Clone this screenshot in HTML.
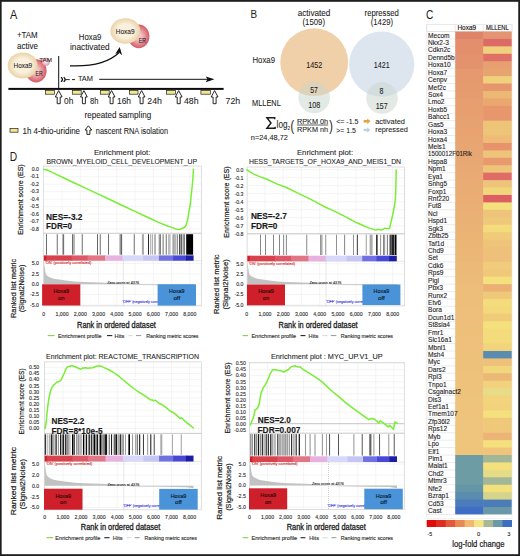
<!DOCTYPE html>
<html><head><meta charset="utf-8"><title>Figure</title>
<style>html,body{margin:0;padding:0;background:#fff;width:520px;height:556px;overflow:hidden;}svg{display:block;font-family:"Liberation Sans",sans-serif;}</style></head><body>
<svg width="520" height="556" viewBox="0 0 520 556" font-family='"Liberation Sans", sans-serif' fill="#1a1a1a">
<rect x="0" y="0" width="520" height="556" fill="#ffffff"/>
<text x="9.80" y="160.90" font-size="12.5" textLength="7.40" lengthAdjust="spacingAndGlyphs">D</text>
<text x="93.90" y="154.80" font-size="7.4" stroke="#1a1a1a" stroke-width="0.08" textLength="56.50" lengthAdjust="spacingAndGlyphs">Enrichment plot:</text>
<text x="46.50" y="163.80" font-size="7.4" stroke="#1a1a1a" stroke-width="0.08" textLength="150.50" lengthAdjust="spacingAndGlyphs">BROWN_MYELOID_CELL_DEVELOPMENT_UP</text>
<text transform="translate(23.30,234.80) rotate(-90)" x="0" y="0" font-size="8" stroke="#1a1a1a" stroke-width="0.2" textLength="70.50" lengthAdjust="spacingAndGlyphs">Enrichment score (ES)</text>
<text transform="translate(16.00,318.00) rotate(-90)" x="0" y="0" font-size="8" stroke="#1a1a1a" stroke-width="0.2" textLength="59.10" lengthAdjust="spacingAndGlyphs">Ranked list metric</text>
<text transform="translate(24.30,312.30) rotate(-90)" x="0" y="0" font-size="8" stroke="#1a1a1a" stroke-width="0.2" textLength="47.70" lengthAdjust="spacingAndGlyphs">(Signal2Noise)</text>
<line x1="62.05" y1="166.10" x2="62.05" y2="233.30" stroke="#ebebeb" stroke-width="0.5"/>
<line x1="62.05" y1="260.70" x2="62.05" y2="305.90" stroke="#ebebeb" stroke-width="0.5"/>
<line x1="80.30" y1="166.10" x2="80.30" y2="233.30" stroke="#ebebeb" stroke-width="0.5"/>
<line x1="80.30" y1="260.70" x2="80.30" y2="305.90" stroke="#ebebeb" stroke-width="0.5"/>
<line x1="98.55" y1="166.10" x2="98.55" y2="233.30" stroke="#ebebeb" stroke-width="0.5"/>
<line x1="98.55" y1="260.70" x2="98.55" y2="305.90" stroke="#ebebeb" stroke-width="0.5"/>
<line x1="116.80" y1="166.10" x2="116.80" y2="233.30" stroke="#ebebeb" stroke-width="0.5"/>
<line x1="116.80" y1="260.70" x2="116.80" y2="305.90" stroke="#ebebeb" stroke-width="0.5"/>
<line x1="135.05" y1="166.10" x2="135.05" y2="233.30" stroke="#ebebeb" stroke-width="0.5"/>
<line x1="135.05" y1="260.70" x2="135.05" y2="305.90" stroke="#ebebeb" stroke-width="0.5"/>
<line x1="153.30" y1="166.10" x2="153.30" y2="233.30" stroke="#ebebeb" stroke-width="0.5"/>
<line x1="153.30" y1="260.70" x2="153.30" y2="305.90" stroke="#ebebeb" stroke-width="0.5"/>
<line x1="171.55" y1="166.10" x2="171.55" y2="233.30" stroke="#ebebeb" stroke-width="0.5"/>
<line x1="171.55" y1="260.70" x2="171.55" y2="305.90" stroke="#ebebeb" stroke-width="0.5"/>
<line x1="189.80" y1="166.10" x2="189.80" y2="233.30" stroke="#ebebeb" stroke-width="0.5"/>
<line x1="189.80" y1="260.70" x2="189.80" y2="305.90" stroke="#ebebeb" stroke-width="0.5"/>
<line x1="43.30" y1="169.20" x2="201.30" y2="169.20" stroke="#ebebeb" stroke-width="0.5"/>
<line x1="43.30" y1="176.69" x2="201.30" y2="176.69" stroke="#ebebeb" stroke-width="0.5"/>
<line x1="43.30" y1="184.18" x2="201.30" y2="184.18" stroke="#ebebeb" stroke-width="0.5"/>
<line x1="43.30" y1="191.67" x2="201.30" y2="191.67" stroke="#ebebeb" stroke-width="0.5"/>
<line x1="43.30" y1="199.16" x2="201.30" y2="199.16" stroke="#ebebeb" stroke-width="0.5"/>
<line x1="43.30" y1="206.65" x2="201.30" y2="206.65" stroke="#ebebeb" stroke-width="0.5"/>
<line x1="43.30" y1="214.14" x2="201.30" y2="214.14" stroke="#ebebeb" stroke-width="0.5"/>
<line x1="43.30" y1="221.63" x2="201.30" y2="221.63" stroke="#ebebeb" stroke-width="0.5"/>
<line x1="43.30" y1="229.12" x2="201.30" y2="229.12" stroke="#ebebeb" stroke-width="0.5"/>
<line x1="43.30" y1="263.50" x2="201.30" y2="263.50" stroke="#ebebeb" stroke-width="0.5"/>
<line x1="43.30" y1="274.00" x2="201.30" y2="274.00" stroke="#ebebeb" stroke-width="0.5"/>
<line x1="43.30" y1="284.20" x2="201.30" y2="284.20" stroke="#ebebeb" stroke-width="0.5"/>
<line x1="43.30" y1="294.40" x2="201.30" y2="294.40" stroke="#ebebeb" stroke-width="0.5"/>
<line x1="43.30" y1="305.00" x2="201.30" y2="305.00" stroke="#ebebeb" stroke-width="0.5"/>
<rect x="43.30" y="166.10" width="158.00" height="139.80" fill="none" stroke="#cfcfcf" stroke-width="0.7"/>
<line x1="43.30" y1="233.30" x2="201.30" y2="233.30" stroke="#bdbdbd" stroke-width="0.8"/>
<line x1="43.30" y1="260.70" x2="201.30" y2="260.70" stroke="#d6d6d6" stroke-width="0.6"/>
<text x="39.00" y="171.00" font-size="5.2" text-anchor="end" fill="#303030" stroke="#303030" stroke-width="0.12">0.0</text>
<text x="39.00" y="178.49" font-size="5.2" text-anchor="end" fill="#303030" stroke="#303030" stroke-width="0.12">-0.1</text>
<text x="39.00" y="185.98" font-size="5.2" text-anchor="end" fill="#303030" stroke="#303030" stroke-width="0.12">-0.2</text>
<text x="39.00" y="193.47" font-size="5.2" text-anchor="end" fill="#303030" stroke="#303030" stroke-width="0.12">-0.3</text>
<text x="39.00" y="200.96" font-size="5.2" text-anchor="end" fill="#303030" stroke="#303030" stroke-width="0.12">-0.4</text>
<text x="39.00" y="208.45" font-size="5.2" text-anchor="end" fill="#303030" stroke="#303030" stroke-width="0.12">-0.5</text>
<text x="39.00" y="215.94" font-size="5.2" text-anchor="end" fill="#303030" stroke="#303030" stroke-width="0.12">-0.6</text>
<text x="39.00" y="223.43" font-size="5.2" text-anchor="end" fill="#303030" stroke="#303030" stroke-width="0.12">-0.7</text>
<text x="39.00" y="230.92" font-size="5.2" text-anchor="end" fill="#303030" stroke="#303030" stroke-width="0.12">-0.8</text>
<text x="39.00" y="265.30" font-size="5.2" text-anchor="end" fill="#303030" stroke="#303030" stroke-width="0.12">5.0</text>
<text x="39.00" y="275.80" font-size="5.2" text-anchor="end" fill="#303030" stroke="#303030" stroke-width="0.12">2.5</text>
<text x="39.00" y="286.00" font-size="5.2" text-anchor="end" fill="#303030" stroke="#303030" stroke-width="0.12">0.0</text>
<text x="39.00" y="296.20" font-size="5.2" text-anchor="end" fill="#303030" stroke="#303030" stroke-width="0.12">-2.5</text>
<text x="39.00" y="306.80" font-size="5.2" text-anchor="end" fill="#303030" stroke="#303030" stroke-width="0.12">-5.0</text>
<rect x="46.10" y="234.20" width="0.80" height="20.50" fill="#4a4a4a"/>
<rect x="56.80" y="234.20" width="0.80" height="20.50" fill="#4a4a4a"/>
<rect x="62.40" y="234.20" width="1.00" height="20.50" fill="#888"/>
<rect x="63.30" y="234.20" width="0.80" height="20.50" fill="#4a4a4a"/>
<rect x="72.00" y="234.20" width="0.80" height="20.50" fill="#4a4a4a"/>
<rect x="73.60" y="234.20" width="0.80" height="20.50" fill="#4a4a4a"/>
<rect x="81.80" y="234.20" width="0.80" height="20.50" fill="#4a4a4a"/>
<rect x="97.00" y="234.20" width="1.00" height="20.50" fill="#666"/>
<rect x="99.80" y="234.20" width="0.80" height="20.50" fill="#4a4a4a"/>
<rect x="108.20" y="234.20" width="0.80" height="20.50" fill="#4a4a4a"/>
<rect x="119.70" y="234.20" width="0.80" height="20.50" fill="#4a4a4a"/>
<rect x="121.30" y="234.20" width="0.80" height="20.50" fill="#4a4a4a"/>
<rect x="120.85" y="234.20" width="0.70" height="20.50" fill="#555"/>
<rect x="133.80" y="234.20" width="0.80" height="20.50" fill="#4a4a4a"/>
<rect x="141.90" y="234.20" width="0.80" height="20.50" fill="#888"/>
<rect x="143.00" y="234.20" width="0.80" height="20.50" fill="#999"/>
<rect x="148.05" y="234.20" width="0.90" height="20.50" fill="#111"/>
<rect x="150.40" y="234.20" width="0.80" height="20.50" fill="#888"/>
<rect x="152.20" y="234.20" width="0.80" height="20.50" fill="#999"/>
<rect x="154.60" y="234.20" width="0.80" height="20.50" fill="#4a4a4a"/>
<rect x="158.75" y="234.20" width="0.90" height="20.50" fill="#777"/>
<rect x="159.85" y="234.20" width="0.90" height="20.50" fill="#555"/>
<rect x="162.70" y="234.20" width="0.80" height="20.50" fill="#4a4a4a"/>
<rect x="165.80" y="234.20" width="0.80" height="20.50" fill="#4a4a4a"/>
<rect x="168.45" y="234.20" width="0.90" height="20.50" fill="#888"/>
<rect x="169.60" y="234.20" width="0.80" height="20.50" fill="#999"/>
<rect x="172.70" y="234.20" width="0.80" height="20.50" fill="#4a4a4a"/>
<rect x="174.60" y="234.20" width="0.80" height="20.50" fill="#4a4a4a"/>
<rect x="176.80" y="234.20" width="0.80" height="20.50" fill="#4a4a4a"/>
<rect x="179.20" y="234.20" width="1.00" height="20.50" fill="#222"/>
<rect x="180.70" y="234.20" width="1.00" height="20.50" fill="#222"/>
<rect x="182.70" y="234.20" width="0.80" height="20.50" fill="#4a4a4a"/>
<rect x="183.90" y="234.20" width="0.80" height="20.50" fill="#4a4a4a"/>
<rect x="186.20" y="234.20" width="6.90" height="20.50" fill="#000"/>
<rect x="43.80" y="255.40" width="3.20" height="5.30" fill="#d01e2a"/>
<rect x="46.30" y="255.40" width="26.10" height="5.30" fill="#d8424c"/>
<rect x="71.70" y="255.40" width="16.60" height="5.30" fill="#dc5866"/>
<rect x="87.60" y="255.40" width="18.10" height="5.30" fill="#e27684"/>
<rect x="105.00" y="255.40" width="18.20" height="5.30" fill="#e8b2e0"/>
<rect x="122.50" y="255.40" width="21.40" height="5.30" fill="#d8d8fa"/>
<rect x="143.20" y="255.40" width="16.50" height="5.30" fill="#c6c6f4"/>
<rect x="159.00" y="255.40" width="15.00" height="5.30" fill="#7070e2"/>
<rect x="173.30" y="255.40" width="13.40" height="5.30" fill="#4848d6"/>
<rect x="186.00" y="255.40" width="7.60" height="5.30" fill="#1c1ca4"/>
<path d="M43.80,284.20 L43.80,261.50 L44.29,264.90 L45.21,271.00 L46.00,274.40 L47.80,276.20 L50.39,277.50 L53.79,278.80 L58.93,279.60 L65.97,280.50 L74.51,281.40 L83.35,281.90 L91.89,282.20 L105.67,282.70 L118.70,283.30 L123.94,284.20 L133.68,284.90 L163.64,285.20 L186.11,285.60 L192.10,286.40 L193.60,286.40 L193.60,284.20 Z" fill="#c2c2c2"/>
<line x1="123.40" y1="260.70" x2="123.40" y2="305.90" stroke="#a0a0a0" stroke-width="0.5" stroke-dasharray="1,1"/>
<text x="107.20" y="284.30" font-size="3.4" fill="#222" stroke="#222" stroke-width="0.088" textLength="32.00" lengthAdjust="spacingAndGlyphs">Zero cross at 4376</text>
<text x="44.90" y="264.10" font-size="3.4" fill="#d42020" stroke="#d42020" stroke-width="0.088" textLength="46.40" lengthAdjust="spacingAndGlyphs">'ON' (positively correlated)</text>
<text x="122.40" y="303.40" font-size="3.4" fill="#2a2ae0" stroke="#2a2ae0" stroke-width="0.088" textLength="46.00" lengthAdjust="spacingAndGlyphs">'OFF' (negatively correlated)</text>
<rect x="42.10" y="284.30" width="38.20" height="21.20" fill="#cf1f2b"/>
<rect x="157.60" y="284.30" width="38.40" height="21.30" fill="#4a93d8"/>
<text x="61.20" y="293.10" font-size="5.6" text-anchor="middle" fill="#2a0808" stroke="#2a0808" stroke-width="0.146" textLength="15.60" lengthAdjust="spacingAndGlyphs">Hoxa9</text>
<text x="61.20" y="299.70" font-size="5.6" text-anchor="middle" fill="#2a0808" stroke="#2a0808" stroke-width="0.146" textLength="6.40" lengthAdjust="spacingAndGlyphs">on</text>
<text x="176.80" y="293.10" font-size="5.6" text-anchor="middle" fill="#0a1a30" stroke="#0a1a30" stroke-width="0.146" textLength="15.60" lengthAdjust="spacingAndGlyphs">Hoxa9</text>
<text x="176.80" y="299.70" font-size="5.6" text-anchor="middle" fill="#0a1a30" stroke="#0a1a30" stroke-width="0.146" textLength="6.80" lengthAdjust="spacingAndGlyphs">off</text>
<path d="M43.60,169.50 L46.50,169.80 L50.00,171.40 L56.30,174.40 L65.00,178.50 L75.00,183.20 L85.00,187.90 L95.00,192.60 L105.00,197.30 L115.00,202.00 L125.00,206.70 L135.00,211.40 L143.10,215.20 L150.80,218.80 L158.50,222.40 L166.20,225.50 L172.30,227.60 L176.90,229.20 L179.20,229.60 L181.50,228.80 L184.60,227.30 L186.20,225.00 L187.70,219.60 L189.20,210.40 L190.40,204.00 L191.10,196.00 L192.00,188.00 L192.80,180.20 L193.20,174.00 L193.40,169.30" fill="none" stroke="#78ee34" stroke-width="1.5" stroke-linejoin="round" stroke-linecap="round"/>
<text x="46.10" y="219.90" font-size="9.4" stroke="#1a1a1a" stroke-width="0.15" font-weight="bold" textLength="36.40" lengthAdjust="spacingAndGlyphs">NES=-3.2</text>
<text x="46.10" y="228.90" font-size="9.4" stroke="#1a1a1a" stroke-width="0.15" font-weight="bold" textLength="26.00" lengthAdjust="spacingAndGlyphs">FDR=0</text>
<text x="43.80" y="315.60" font-size="5.2" text-anchor="middle" fill="#303030" stroke="#303030" stroke-width="0.12">0</text>
<text x="62.05" y="315.60" font-size="5.2" text-anchor="middle" fill="#303030" stroke="#303030" stroke-width="0.12">1,000</text>
<text x="80.30" y="315.60" font-size="5.2" text-anchor="middle" fill="#303030" stroke="#303030" stroke-width="0.12">2,000</text>
<text x="98.55" y="315.60" font-size="5.2" text-anchor="middle" fill="#303030" stroke="#303030" stroke-width="0.12">3,000</text>
<text x="116.80" y="315.60" font-size="5.2" text-anchor="middle" fill="#303030" stroke="#303030" stroke-width="0.12">4,000</text>
<text x="135.05" y="315.60" font-size="5.2" text-anchor="middle" fill="#303030" stroke="#303030" stroke-width="0.12">5,000</text>
<text x="153.30" y="315.60" font-size="5.2" text-anchor="middle" fill="#303030" stroke="#303030" stroke-width="0.12">6,000</text>
<text x="171.55" y="315.60" font-size="5.2" text-anchor="middle" fill="#303030" stroke="#303030" stroke-width="0.12">7,000</text>
<text x="189.80" y="315.60" font-size="5.2" text-anchor="middle" fill="#303030" stroke="#303030" stroke-width="0.12">8,000</text>
<text x="77.10" y="327.60" font-size="8.4" stroke="#1a1a1a" stroke-width="0.3" textLength="78.70" lengthAdjust="spacingAndGlyphs">Rank in ordered dataset</text>
<line x1="47.70" y1="335.60" x2="54.60" y2="335.60" stroke="#80d050" stroke-width="1.1"/>
<text x="57.90" y="337.50" font-size="5.6" fill="#333" stroke="#333" stroke-width="0.146" textLength="43.60" lengthAdjust="spacingAndGlyphs">Enrichment profile</text>
<line x1="107.00" y1="335.60" x2="112.30" y2="335.60" stroke="#222" stroke-width="1.1"/>
<text x="114.60" y="337.50" font-size="5.6" fill="#333" stroke="#333" stroke-width="0.146" textLength="9.80" lengthAdjust="spacingAndGlyphs">Hits</text>
<line x1="128.30" y1="335.60" x2="132.70" y2="335.60" stroke="#dcdcdc" stroke-width="1.1"/>
<line x1="136.00" y1="335.60" x2="141.20" y2="335.60" stroke="#8a8a8a" stroke-width="0.9"/>
<text x="146.20" y="337.50" font-size="5.6" fill="#333" stroke="#333" stroke-width="0.146" textLength="52.30" lengthAdjust="spacingAndGlyphs">Ranking metric scores</text>
<text x="296.90" y="155.00" font-size="7.4" stroke="#1a1a1a" stroke-width="0.08" textLength="56.20" lengthAdjust="spacingAndGlyphs">Enrichment plot:</text>
<text x="249.00" y="163.80" font-size="7.4" stroke="#1a1a1a" stroke-width="0.08" textLength="152.10" lengthAdjust="spacingAndGlyphs">HESS_TARGETS_OF_HOXA9_AND_MEIS1_DN</text>
<text transform="translate(228.60,237.70) rotate(-90)" x="0" y="0" font-size="8" stroke="#1a1a1a" stroke-width="0.2" textLength="71.40" lengthAdjust="spacingAndGlyphs">Enrichment score (ES)</text>
<text transform="translate(219.40,314.00) rotate(-90)" x="0" y="0" font-size="8" stroke="#1a1a1a" stroke-width="0.2" textLength="59.60" lengthAdjust="spacingAndGlyphs">Ranked list metric</text>
<text transform="translate(228.40,309.60) rotate(-90)" x="0" y="0" font-size="8" stroke="#1a1a1a" stroke-width="0.2" textLength="50.30" lengthAdjust="spacingAndGlyphs">(Signal2Noise)</text>
<line x1="264.94" y1="167.00" x2="264.94" y2="233.80" stroke="#ebebeb" stroke-width="0.5"/>
<line x1="264.94" y1="261.30" x2="264.94" y2="305.90" stroke="#ebebeb" stroke-width="0.5"/>
<line x1="283.18" y1="167.00" x2="283.18" y2="233.80" stroke="#ebebeb" stroke-width="0.5"/>
<line x1="283.18" y1="261.30" x2="283.18" y2="305.90" stroke="#ebebeb" stroke-width="0.5"/>
<line x1="301.42" y1="167.00" x2="301.42" y2="233.80" stroke="#ebebeb" stroke-width="0.5"/>
<line x1="301.42" y1="261.30" x2="301.42" y2="305.90" stroke="#ebebeb" stroke-width="0.5"/>
<line x1="319.66" y1="167.00" x2="319.66" y2="233.80" stroke="#ebebeb" stroke-width="0.5"/>
<line x1="319.66" y1="261.30" x2="319.66" y2="305.90" stroke="#ebebeb" stroke-width="0.5"/>
<line x1="337.90" y1="167.00" x2="337.90" y2="233.80" stroke="#ebebeb" stroke-width="0.5"/>
<line x1="337.90" y1="261.30" x2="337.90" y2="305.90" stroke="#ebebeb" stroke-width="0.5"/>
<line x1="356.14" y1="167.00" x2="356.14" y2="233.80" stroke="#ebebeb" stroke-width="0.5"/>
<line x1="356.14" y1="261.30" x2="356.14" y2="305.90" stroke="#ebebeb" stroke-width="0.5"/>
<line x1="374.38" y1="167.00" x2="374.38" y2="233.80" stroke="#ebebeb" stroke-width="0.5"/>
<line x1="374.38" y1="261.30" x2="374.38" y2="305.90" stroke="#ebebeb" stroke-width="0.5"/>
<line x1="392.62" y1="167.00" x2="392.62" y2="233.80" stroke="#ebebeb" stroke-width="0.5"/>
<line x1="392.62" y1="261.30" x2="392.62" y2="305.90" stroke="#ebebeb" stroke-width="0.5"/>
<line x1="247.10" y1="169.70" x2="404.60" y2="169.70" stroke="#ebebeb" stroke-width="0.5"/>
<line x1="247.10" y1="177.70" x2="404.60" y2="177.70" stroke="#ebebeb" stroke-width="0.5"/>
<line x1="247.10" y1="185.70" x2="404.60" y2="185.70" stroke="#ebebeb" stroke-width="0.5"/>
<line x1="247.10" y1="193.70" x2="404.60" y2="193.70" stroke="#ebebeb" stroke-width="0.5"/>
<line x1="247.10" y1="201.70" x2="404.60" y2="201.70" stroke="#ebebeb" stroke-width="0.5"/>
<line x1="247.10" y1="209.70" x2="404.60" y2="209.70" stroke="#ebebeb" stroke-width="0.5"/>
<line x1="247.10" y1="217.70" x2="404.60" y2="217.70" stroke="#ebebeb" stroke-width="0.5"/>
<line x1="247.10" y1="225.70" x2="404.60" y2="225.70" stroke="#ebebeb" stroke-width="0.5"/>
<line x1="247.10" y1="233.70" x2="404.60" y2="233.70" stroke="#ebebeb" stroke-width="0.5"/>
<line x1="247.10" y1="263.70" x2="404.60" y2="263.70" stroke="#ebebeb" stroke-width="0.5"/>
<line x1="247.10" y1="274.00" x2="404.60" y2="274.00" stroke="#ebebeb" stroke-width="0.5"/>
<line x1="247.10" y1="284.20" x2="404.60" y2="284.20" stroke="#ebebeb" stroke-width="0.5"/>
<line x1="247.10" y1="294.40" x2="404.60" y2="294.40" stroke="#ebebeb" stroke-width="0.5"/>
<line x1="247.10" y1="305.00" x2="404.60" y2="305.00" stroke="#ebebeb" stroke-width="0.5"/>
<rect x="247.10" y="167.00" width="157.50" height="138.90" fill="none" stroke="#cfcfcf" stroke-width="0.7"/>
<line x1="247.10" y1="233.80" x2="404.60" y2="233.80" stroke="#bdbdbd" stroke-width="0.8"/>
<line x1="247.10" y1="261.30" x2="404.60" y2="261.30" stroke="#d6d6d6" stroke-width="0.6"/>
<text x="243.40" y="171.50" font-size="5.2" text-anchor="end" fill="#303030" stroke="#303030" stroke-width="0.12">0.0</text>
<text x="243.40" y="179.50" font-size="5.2" text-anchor="end" fill="#303030" stroke="#303030" stroke-width="0.12">-0.1</text>
<text x="243.40" y="187.50" font-size="5.2" text-anchor="end" fill="#303030" stroke="#303030" stroke-width="0.12">-0.2</text>
<text x="243.40" y="195.50" font-size="5.2" text-anchor="end" fill="#303030" stroke="#303030" stroke-width="0.12">-0.3</text>
<text x="243.40" y="203.50" font-size="5.2" text-anchor="end" fill="#303030" stroke="#303030" stroke-width="0.12">-0.4</text>
<text x="243.40" y="211.50" font-size="5.2" text-anchor="end" fill="#303030" stroke="#303030" stroke-width="0.12">-0.5</text>
<text x="243.40" y="219.50" font-size="5.2" text-anchor="end" fill="#303030" stroke="#303030" stroke-width="0.12">-0.6</text>
<text x="243.40" y="227.50" font-size="5.2" text-anchor="end" fill="#303030" stroke="#303030" stroke-width="0.12">-0.7</text>
<text x="243.40" y="235.50" font-size="5.2" text-anchor="end" fill="#303030" stroke="#303030" stroke-width="0.12">-0.8</text>
<text x="243.40" y="265.50" font-size="5.2" text-anchor="end" fill="#303030" stroke="#303030" stroke-width="0.12">5.0</text>
<text x="243.40" y="275.80" font-size="5.2" text-anchor="end" fill="#303030" stroke="#303030" stroke-width="0.12">2.5</text>
<text x="243.40" y="286.00" font-size="5.2" text-anchor="end" fill="#303030" stroke="#303030" stroke-width="0.12">0.0</text>
<text x="243.40" y="296.20" font-size="5.2" text-anchor="end" fill="#303030" stroke="#303030" stroke-width="0.12">-2.5</text>
<text x="243.40" y="306.80" font-size="5.2" text-anchor="end" fill="#303030" stroke="#303030" stroke-width="0.12">-5.0</text>
<rect x="260.20" y="234.70" width="0.80" height="20.30" fill="#6a6a6a"/>
<rect x="265.10" y="234.70" width="0.80" height="20.30" fill="#6a6a6a"/>
<rect x="273.20" y="234.70" width="0.80" height="20.30" fill="#6a6a6a"/>
<rect x="279.20" y="234.70" width="0.80" height="20.30" fill="#6a6a6a"/>
<rect x="283.30" y="234.70" width="0.80" height="20.30" fill="#6a6a6a"/>
<rect x="285.90" y="234.70" width="0.80" height="20.30" fill="#6a6a6a"/>
<rect x="306.40" y="234.70" width="0.80" height="20.30" fill="#6a6a6a"/>
<rect x="320.30" y="234.70" width="0.80" height="20.30" fill="#6a6a6a"/>
<rect x="321.50" y="234.70" width="0.80" height="20.30" fill="#6a6a6a"/>
<rect x="325.40" y="234.70" width="0.80" height="20.30" fill="#777"/>
<rect x="336.10" y="234.70" width="0.80" height="20.30" fill="#777"/>
<rect x="344.30" y="234.70" width="0.80" height="20.30" fill="#666"/>
<rect x="353.10" y="234.70" width="0.80" height="20.30" fill="#777"/>
<rect x="356.85" y="234.70" width="0.90" height="20.30" fill="#222"/>
<rect x="365.80" y="234.70" width="0.80" height="20.30" fill="#888"/>
<rect x="369.60" y="234.70" width="3.00" height="20.30" fill="#aaa"/>
<rect x="376.05" y="234.70" width="0.90" height="20.30" fill="#222"/>
<rect x="376.90" y="234.70" width="0.80" height="20.30" fill="#444"/>
<rect x="380.30" y="234.70" width="0.80" height="20.30" fill="#777"/>
<rect x="383.10" y="234.70" width="0.80" height="20.30" fill="#666"/>
<rect x="384.30" y="234.70" width="0.80" height="20.30" fill="#777"/>
<rect x="386.90" y="234.70" width="0.80" height="20.30" fill="#555"/>
<rect x="389.50" y="234.70" width="2.20" height="20.30" fill="#444"/>
<rect x="391.70" y="234.70" width="2.60" height="20.30" fill="#222"/>
<rect x="394.70" y="234.70" width="1.80" height="20.30" fill="#000"/>
<rect x="247.30" y="255.70" width="3.19" height="5.60" fill="#d01e2a"/>
<rect x="249.79" y="255.70" width="26.05" height="5.60" fill="#d8424c"/>
<rect x="275.14" y="255.70" width="16.57" height="5.60" fill="#dc5866"/>
<rect x="291.01" y="255.70" width="18.07" height="5.60" fill="#e27684"/>
<rect x="308.38" y="255.70" width="18.16" height="5.60" fill="#e8b2e0"/>
<rect x="325.84" y="255.70" width="21.36" height="5.60" fill="#d8d8fa"/>
<rect x="346.50" y="255.70" width="16.47" height="5.60" fill="#c6c6f4"/>
<rect x="362.27" y="255.70" width="14.97" height="5.60" fill="#7070e2"/>
<rect x="376.54" y="255.70" width="13.37" height="5.60" fill="#4848d6"/>
<rect x="389.22" y="255.70" width="7.58" height="5.60" fill="#1c1ca4"/>
<path d="M247.30,284.20 L247.30,261.50 L247.79,264.90 L248.71,271.00 L249.50,274.40 L251.29,276.20 L253.88,277.50 L257.27,278.80 L262.40,279.60 L269.43,280.50 L277.95,281.40 L286.77,281.90 L295.29,282.20 L309.04,282.70 L322.05,283.30 L327.28,284.20 L337.00,284.90 L366.90,285.20 L389.33,285.60 L395.31,286.40 L396.80,286.40 L396.80,284.20 Z" fill="#c2c2c2"/>
<line x1="326.00" y1="261.30" x2="326.00" y2="305.90" stroke="#a0a0a0" stroke-width="0.5" stroke-dasharray="1,1"/>
<text x="309.50" y="284.30" font-size="3.4" fill="#222" stroke="#222" stroke-width="0.088" textLength="32.00" lengthAdjust="spacingAndGlyphs">Zero cross at 4376</text>
<text x="248.70" y="264.70" font-size="3.4" fill="#d42020" stroke="#d42020" stroke-width="0.088" textLength="46.40" lengthAdjust="spacingAndGlyphs">'ON' (positively correlated)</text>
<text x="326.00" y="303.20" font-size="3.4" fill="#2a2ae0" stroke="#2a2ae0" stroke-width="0.088" textLength="46.00" lengthAdjust="spacingAndGlyphs">'OFF' (negatively correlated)</text>
<rect x="247.00" y="284.50" width="38.00" height="20.80" fill="#cf1f2b"/>
<rect x="362.40" y="284.50" width="38.00" height="20.50" fill="#4a93d8"/>
<text x="266.00" y="293.30" font-size="5.6" text-anchor="middle" fill="#2a0808" stroke="#2a0808" stroke-width="0.146" textLength="15.60" lengthAdjust="spacingAndGlyphs">Hoxa9</text>
<text x="266.00" y="299.90" font-size="5.6" text-anchor="middle" fill="#2a0808" stroke="#2a0808" stroke-width="0.146" textLength="6.40" lengthAdjust="spacingAndGlyphs">on</text>
<text x="381.40" y="293.30" font-size="5.6" text-anchor="middle" fill="#0a1a30" stroke="#0a1a30" stroke-width="0.146" textLength="15.60" lengthAdjust="spacingAndGlyphs">Hoxa9</text>
<text x="381.40" y="299.90" font-size="5.6" text-anchor="middle" fill="#0a1a30" stroke="#0a1a30" stroke-width="0.146" textLength="6.80" lengthAdjust="spacingAndGlyphs">off</text>
<path d="M246.90,169.90 L253.80,174.10 L260.30,176.90 L266.90,179.30 L276.70,183.90 L286.50,187.50 L296.30,192.40 L309.40,198.60 L319.20,203.90 L325.00,207.00 L332.70,210.40 L340.40,214.20 L348.10,218.10 L355.80,222.40 L358.10,223.20 L363.50,225.80 L369.60,228.10 L375.80,230.10 L378.10,229.20 L381.20,230.10 L383.20,229.20 L385.00,228.10 L387.30,228.80 L389.60,228.50 L391.20,221.20 L392.70,215.00 L394.20,207.30 L395.50,198.10 L395.90,185.00 L396.10,176.00 L396.20,169.90" fill="none" stroke="#78ee34" stroke-width="1.5" stroke-linejoin="round" stroke-linecap="round"/>
<text x="250.90" y="219.40" font-size="9.4" stroke="#1a1a1a" stroke-width="0.15" font-weight="bold" textLength="35.90" lengthAdjust="spacingAndGlyphs">NES=-2.7</text>
<text x="250.90" y="228.50" font-size="9.4" stroke="#1a1a1a" stroke-width="0.15" font-weight="bold" textLength="26.60" lengthAdjust="spacingAndGlyphs">FDR=0</text>
<text x="246.70" y="315.60" font-size="5.2" text-anchor="middle" fill="#303030" stroke="#303030" stroke-width="0.12">0</text>
<text x="264.94" y="315.60" font-size="5.2" text-anchor="middle" fill="#303030" stroke="#303030" stroke-width="0.12">1,000</text>
<text x="283.18" y="315.60" font-size="5.2" text-anchor="middle" fill="#303030" stroke="#303030" stroke-width="0.12">2,000</text>
<text x="301.42" y="315.60" font-size="5.2" text-anchor="middle" fill="#303030" stroke="#303030" stroke-width="0.12">3,000</text>
<text x="319.66" y="315.60" font-size="5.2" text-anchor="middle" fill="#303030" stroke="#303030" stroke-width="0.12">4,000</text>
<text x="337.90" y="315.60" font-size="5.2" text-anchor="middle" fill="#303030" stroke="#303030" stroke-width="0.12">5,000</text>
<text x="356.14" y="315.60" font-size="5.2" text-anchor="middle" fill="#303030" stroke="#303030" stroke-width="0.12">6,000</text>
<text x="374.38" y="315.60" font-size="5.2" text-anchor="middle" fill="#303030" stroke="#303030" stroke-width="0.12">7,000</text>
<text x="392.62" y="315.60" font-size="5.2" text-anchor="middle" fill="#303030" stroke="#303030" stroke-width="0.12">8,000</text>
<text x="278.60" y="327.60" font-size="8.4" stroke="#1a1a1a" stroke-width="0.3" textLength="79.00" lengthAdjust="spacingAndGlyphs">Rank in ordered dataset</text>
<line x1="242.60" y1="335.60" x2="248.20" y2="335.60" stroke="#80d050" stroke-width="1.1"/>
<text x="251.40" y="337.50" font-size="5.6" fill="#333" stroke="#333" stroke-width="0.146" textLength="44.80" lengthAdjust="spacingAndGlyphs">Enrichment profile</text>
<line x1="300.50" y1="335.60" x2="305.40" y2="335.60" stroke="#222" stroke-width="1.1"/>
<text x="308.60" y="337.50" font-size="5.6" fill="#333" stroke="#333" stroke-width="0.146" textLength="9.80" lengthAdjust="spacingAndGlyphs">Hits</text>
<line x1="322.40" y1="335.60" x2="327.60" y2="335.60" stroke="#dcdcdc" stroke-width="1.1"/>
<line x1="330.80" y1="335.60" x2="336.40" y2="335.60" stroke="#8a8a8a" stroke-width="0.9"/>
<text x="340.70" y="337.50" font-size="5.6" fill="#333" stroke="#333" stroke-width="0.146" textLength="52.30" lengthAdjust="spacingAndGlyphs">Ranking metric scores</text>
<text x="46.10" y="358.60" font-size="7.4" stroke="#1a1a1a" stroke-width="0.08" textLength="152.90" lengthAdjust="spacingAndGlyphs">Enrichment plot: REACTOME_TRANSCRIPTION</text>
<text transform="translate(24.10,434.50) rotate(-90)" x="0" y="0" font-size="8" stroke="#1a1a1a" stroke-width="0.2" textLength="66.10" lengthAdjust="spacingAndGlyphs">Enrichment score (ES)</text>
<text transform="translate(16.10,515.20) rotate(-90)" x="0" y="0" font-size="8" stroke="#1a1a1a" stroke-width="0.2" textLength="68.20" lengthAdjust="spacingAndGlyphs">Ranked list metric</text>
<text transform="translate(25.00,509.30) rotate(-90)" x="0" y="0" font-size="8" stroke="#1a1a1a" stroke-width="0.2" textLength="50.40" lengthAdjust="spacingAndGlyphs">(Signal2Noise)</text>
<line x1="62.90" y1="361.90" x2="62.90" y2="433.40" stroke="#ebebeb" stroke-width="0.5"/>
<line x1="62.90" y1="461.50" x2="62.90" y2="509.80" stroke="#ebebeb" stroke-width="0.5"/>
<line x1="81.00" y1="361.90" x2="81.00" y2="433.40" stroke="#ebebeb" stroke-width="0.5"/>
<line x1="81.00" y1="461.50" x2="81.00" y2="509.80" stroke="#ebebeb" stroke-width="0.5"/>
<line x1="99.10" y1="361.90" x2="99.10" y2="433.40" stroke="#ebebeb" stroke-width="0.5"/>
<line x1="99.10" y1="461.50" x2="99.10" y2="509.80" stroke="#ebebeb" stroke-width="0.5"/>
<line x1="117.20" y1="361.90" x2="117.20" y2="433.40" stroke="#ebebeb" stroke-width="0.5"/>
<line x1="117.20" y1="461.50" x2="117.20" y2="509.80" stroke="#ebebeb" stroke-width="0.5"/>
<line x1="135.30" y1="361.90" x2="135.30" y2="433.40" stroke="#ebebeb" stroke-width="0.5"/>
<line x1="135.30" y1="461.50" x2="135.30" y2="509.80" stroke="#ebebeb" stroke-width="0.5"/>
<line x1="153.40" y1="361.90" x2="153.40" y2="433.40" stroke="#ebebeb" stroke-width="0.5"/>
<line x1="153.40" y1="461.50" x2="153.40" y2="509.80" stroke="#ebebeb" stroke-width="0.5"/>
<line x1="171.50" y1="361.90" x2="171.50" y2="433.40" stroke="#ebebeb" stroke-width="0.5"/>
<line x1="171.50" y1="461.50" x2="171.50" y2="509.80" stroke="#ebebeb" stroke-width="0.5"/>
<line x1="189.60" y1="361.90" x2="189.60" y2="433.40" stroke="#ebebeb" stroke-width="0.5"/>
<line x1="189.60" y1="461.50" x2="189.60" y2="509.80" stroke="#ebebeb" stroke-width="0.5"/>
<line x1="44.40" y1="428.50" x2="201.30" y2="428.50" stroke="#ebebeb" stroke-width="0.5"/>
<line x1="44.40" y1="422.39" x2="201.30" y2="422.39" stroke="#ebebeb" stroke-width="0.5"/>
<line x1="44.40" y1="416.28" x2="201.30" y2="416.28" stroke="#ebebeb" stroke-width="0.5"/>
<line x1="44.40" y1="410.17" x2="201.30" y2="410.17" stroke="#ebebeb" stroke-width="0.5"/>
<line x1="44.40" y1="404.06" x2="201.30" y2="404.06" stroke="#ebebeb" stroke-width="0.5"/>
<line x1="44.40" y1="397.95" x2="201.30" y2="397.95" stroke="#ebebeb" stroke-width="0.5"/>
<line x1="44.40" y1="391.84" x2="201.30" y2="391.84" stroke="#ebebeb" stroke-width="0.5"/>
<line x1="44.40" y1="385.73" x2="201.30" y2="385.73" stroke="#ebebeb" stroke-width="0.5"/>
<line x1="44.40" y1="379.62" x2="201.30" y2="379.62" stroke="#ebebeb" stroke-width="0.5"/>
<line x1="44.40" y1="373.51" x2="201.30" y2="373.51" stroke="#ebebeb" stroke-width="0.5"/>
<line x1="44.40" y1="367.40" x2="201.30" y2="367.40" stroke="#ebebeb" stroke-width="0.5"/>
<line x1="44.40" y1="464.00" x2="201.30" y2="464.00" stroke="#ebebeb" stroke-width="0.5"/>
<line x1="44.40" y1="475.00" x2="201.30" y2="475.00" stroke="#ebebeb" stroke-width="0.5"/>
<line x1="44.40" y1="485.70" x2="201.30" y2="485.70" stroke="#ebebeb" stroke-width="0.5"/>
<line x1="44.40" y1="496.80" x2="201.30" y2="496.80" stroke="#ebebeb" stroke-width="0.5"/>
<line x1="44.40" y1="507.50" x2="201.30" y2="507.50" stroke="#ebebeb" stroke-width="0.5"/>
<rect x="44.40" y="361.90" width="156.90" height="147.90" fill="none" stroke="#cfcfcf" stroke-width="0.7"/>
<line x1="44.40" y1="433.40" x2="201.30" y2="433.40" stroke="#bdbdbd" stroke-width="0.8"/>
<line x1="44.40" y1="461.50" x2="201.30" y2="461.50" stroke="#d6d6d6" stroke-width="0.6"/>
<text x="39.20" y="430.30" font-size="5.2" text-anchor="end" fill="#303030" stroke="#303030" stroke-width="0.12">0.00</text>
<text x="39.20" y="424.19" font-size="5.2" text-anchor="end" fill="#303030" stroke="#303030" stroke-width="0.12">0.05</text>
<text x="39.20" y="418.08" font-size="5.2" text-anchor="end" fill="#303030" stroke="#303030" stroke-width="0.12">0.10</text>
<text x="39.20" y="411.97" font-size="5.2" text-anchor="end" fill="#303030" stroke="#303030" stroke-width="0.12">0.15</text>
<text x="39.20" y="405.86" font-size="5.2" text-anchor="end" fill="#303030" stroke="#303030" stroke-width="0.12">0.20</text>
<text x="39.20" y="399.75" font-size="5.2" text-anchor="end" fill="#303030" stroke="#303030" stroke-width="0.12">0.25</text>
<text x="39.20" y="393.64" font-size="5.2" text-anchor="end" fill="#303030" stroke="#303030" stroke-width="0.12">0.30</text>
<text x="39.20" y="387.53" font-size="5.2" text-anchor="end" fill="#303030" stroke="#303030" stroke-width="0.12">0.35</text>
<text x="39.20" y="381.42" font-size="5.2" text-anchor="end" fill="#303030" stroke="#303030" stroke-width="0.12">0.40</text>
<text x="39.20" y="375.31" font-size="5.2" text-anchor="end" fill="#303030" stroke="#303030" stroke-width="0.12">0.45</text>
<text x="39.20" y="369.20" font-size="5.2" text-anchor="end" fill="#303030" stroke="#303030" stroke-width="0.12">0.50</text>
<text x="39.20" y="465.80" font-size="5.2" text-anchor="end" fill="#303030" stroke="#303030" stroke-width="0.12">5.0</text>
<text x="39.20" y="476.80" font-size="5.2" text-anchor="end" fill="#303030" stroke="#303030" stroke-width="0.12">2.0</text>
<text x="39.20" y="487.50" font-size="5.2" text-anchor="end" fill="#303030" stroke="#303030" stroke-width="0.12">0.0</text>
<text x="39.20" y="498.60" font-size="5.2" text-anchor="end" fill="#303030" stroke="#303030" stroke-width="0.12">-2.5</text>
<text x="39.20" y="509.30" font-size="5.2" text-anchor="end" fill="#303030" stroke="#303030" stroke-width="0.12">-5.0</text>
<rect x="44.70" y="434.30" width="1.20" height="20.60" fill="#222"/>
<rect x="46.72" y="434.30" width="1.00" height="20.60" fill="#aaa"/>
<rect x="48.77" y="434.30" width="1.40" height="20.60" fill="#aaa"/>
<rect x="50.79" y="434.30" width="1.70" height="20.60" fill="#222"/>
<rect x="52.94" y="434.30" width="1.70" height="20.60" fill="#aaa"/>
<rect x="55.49" y="434.30" width="1.20" height="20.60" fill="#111"/>
<rect x="57.88" y="434.30" width="1.00" height="20.60" fill="#888"/>
<rect x="60.12" y="434.30" width="1.20" height="20.60" fill="#000"/>
<rect x="62.48" y="434.30" width="1.40" height="20.60" fill="#000"/>
<rect x="64.82" y="434.30" width="1.70" height="20.60" fill="#333"/>
<rect x="67.05" y="434.30" width="1.70" height="20.60" fill="#888"/>
<rect x="69.26" y="434.30" width="1.20" height="20.60" fill="#aaa"/>
<rect x="71.99" y="434.30" width="1.00" height="20.60" fill="#000"/>
<rect x="73.38" y="434.30" width="1.40" height="20.60" fill="#222"/>
<rect x="76.13" y="434.30" width="1.40" height="20.60" fill="#888"/>
<rect x="78.12" y="434.30" width="1.40" height="20.60" fill="#888"/>
<rect x="80.37" y="434.30" width="1.20" height="20.60" fill="#888"/>
<rect x="82.93" y="434.30" width="1.40" height="20.60" fill="#000"/>
<rect x="85.72" y="434.30" width="1.40" height="20.60" fill="#111"/>
<rect x="88.57" y="434.30" width="1.20" height="20.60" fill="#000"/>
<rect x="90.76" y="434.30" width="1.40" height="20.60" fill="#333"/>
<rect x="92.18" y="434.30" width="1.70" height="20.60" fill="#aaa"/>
<rect x="93.70" y="434.30" width="1.70" height="20.60" fill="#000"/>
<rect x="96.51" y="434.30" width="1.40" height="20.60" fill="#000"/>
<rect x="98.71" y="434.30" width="1.00" height="20.60" fill="#888"/>
<rect x="99.82" y="434.30" width="1.70" height="20.60" fill="#000"/>
<rect x="102.38" y="434.30" width="1.40" height="20.60" fill="#666"/>
<rect x="104.48" y="434.30" width="1.40" height="20.60" fill="#000"/>
<rect x="106.09" y="434.30" width="1.00" height="20.60" fill="#000"/>
<rect x="108.62" y="434.30" width="1.40" height="20.60" fill="#888"/>
<rect x="111.08" y="434.30" width="1.00" height="20.60" fill="#111"/>
<rect x="113.65" y="434.30" width="1.40" height="20.60" fill="#666"/>
<rect x="115.40" y="434.30" width="1.70" height="20.60" fill="#111"/>
<rect x="117.68" y="434.30" width="1.00" height="20.60" fill="#888"/>
<rect x="119.60" y="434.30" width="1.70" height="20.60" fill="#333"/>
<rect x="121.90" y="434.30" width="0.80" height="20.60" fill="#888"/>
<rect x="123.00" y="434.30" width="0.80" height="20.60" fill="#888"/>
<rect x="125.00" y="434.30" width="0.80" height="20.60" fill="#888"/>
<rect x="128.40" y="434.30" width="1.60" height="20.60" fill="#000"/>
<rect x="132.15" y="434.30" width="0.90" height="20.60" fill="#888"/>
<rect x="134.95" y="434.30" width="0.90" height="20.60" fill="#999"/>
<rect x="136.75" y="434.30" width="0.90" height="20.60" fill="#333"/>
<rect x="139.20" y="434.30" width="1.00" height="20.60" fill="#000"/>
<rect x="142.95" y="434.30" width="0.90" height="20.60" fill="#222"/>
<rect x="147.25" y="434.30" width="0.90" height="20.60" fill="#888"/>
<rect x="150.30" y="434.30" width="1.00" height="20.60" fill="#111"/>
<rect x="153.75" y="434.30" width="0.90" height="20.60" fill="#333"/>
<rect x="160.30" y="434.30" width="2.00" height="20.60" fill="#aaa"/>
<rect x="171.90" y="434.30" width="0.80" height="20.60" fill="#888"/>
<rect x="180.80" y="434.30" width="0.80" height="20.60" fill="#888"/>
<rect x="44.60" y="455.60" width="3.18" height="5.90" fill="#d01e2a"/>
<rect x="47.08" y="455.60" width="25.95" height="5.90" fill="#d8424c"/>
<rect x="72.33" y="455.60" width="16.50" height="5.90" fill="#dc5866"/>
<rect x="88.14" y="455.60" width="18.00" height="5.90" fill="#e27684"/>
<rect x="105.43" y="455.60" width="18.09" height="5.90" fill="#e8b2e0"/>
<rect x="122.83" y="455.60" width="21.28" height="5.90" fill="#d8d8fa"/>
<rect x="143.40" y="455.60" width="16.41" height="5.90" fill="#c6c6f4"/>
<rect x="159.11" y="455.60" width="14.91" height="5.90" fill="#7070e2"/>
<rect x="173.32" y="455.60" width="13.32" height="5.90" fill="#4848d6"/>
<rect x="185.95" y="455.60" width="7.55" height="5.90" fill="#1c1ca4"/>
<path d="M44.60,485.70 L44.60,461.87 L45.09,465.44 L46.00,471.84 L46.79,475.41 L48.58,477.30 L51.15,478.66 L54.53,480.03 L59.64,480.87 L66.64,481.81 L75.12,482.76 L83.91,483.28 L92.40,483.60 L106.10,484.12 L119.05,484.75 L124.26,485.70 L133.94,486.44 L163.72,486.75 L186.06,487.17 L192.01,488.01 L193.50,488.01 L193.50,485.70 Z" fill="#c2c2c2"/>
<line x1="123.80" y1="461.50" x2="123.80" y2="509.80" stroke="#a0a0a0" stroke-width="0.5" stroke-dasharray="1,1"/>
<text x="107.50" y="485.80" font-size="3.4" fill="#222" stroke="#222" stroke-width="0.088" textLength="32.00" lengthAdjust="spacingAndGlyphs">Zero cross at 4376</text>
<text x="46.00" y="464.90" font-size="3.4" fill="#d42020" stroke="#d42020" stroke-width="0.088" textLength="46.40" lengthAdjust="spacingAndGlyphs">'ON' (positively correlated)</text>
<text x="123.00" y="507.20" font-size="3.4" fill="#2a2ae0" stroke="#2a2ae0" stroke-width="0.088" textLength="46.00" lengthAdjust="spacingAndGlyphs">'OFF' (negatively correlated)</text>
<rect x="44.00" y="488.70" width="38.50" height="21.00" fill="#cf1f2b"/>
<rect x="159.20" y="488.90" width="38.50" height="20.70" fill="#4a93d8"/>
<text x="63.25" y="497.50" font-size="5.6" text-anchor="middle" fill="#2a0808" stroke="#2a0808" stroke-width="0.146" textLength="15.60" lengthAdjust="spacingAndGlyphs">Hoxa9</text>
<text x="63.25" y="504.10" font-size="5.6" text-anchor="middle" fill="#2a0808" stroke="#2a0808" stroke-width="0.146" textLength="6.40" lengthAdjust="spacingAndGlyphs">on</text>
<text x="178.45" y="497.70" font-size="5.6" text-anchor="middle" fill="#0a1a30" stroke="#0a1a30" stroke-width="0.146" textLength="15.60" lengthAdjust="spacingAndGlyphs">Hoxa9</text>
<text x="178.45" y="504.30" font-size="5.6" text-anchor="middle" fill="#0a1a30" stroke="#0a1a30" stroke-width="0.146" textLength="6.80" lengthAdjust="spacingAndGlyphs">off</text>
<path d="M45.10,428.50 L46.30,421.50 L46.90,413.80 L47.80,406.20 L48.90,398.50 L50.50,390.80 L52.00,387.40 L54.30,384.30 L55.50,383.60 L56.60,382.30 L58.90,381.50 L60.20,380.90 L61.20,379.70 L62.80,376.20 L64.30,373.10 L65.80,369.20 L67.40,366.90 L69.70,366.20 L72.00,365.70 L74.30,366.50 L77.40,367.70 L80.50,369.20 L82.80,368.00 L85.80,367.70 L87.50,368.30 L89.70,368.00 L92.80,367.70 L95.80,366.50 L98.90,365.80 L101.20,366.20 L103.50,367.40 L108.20,369.50 L112.80,372.00 L117.40,375.10 L120.00,377.20 L124.60,381.20 L129.20,384.90 L133.80,388.50 L138.50,392.00 L143.10,394.60 L146.90,397.20 L150.00,399.70 L152.30,400.00 L153.80,400.80 L155.40,400.30 L157.70,402.30 L160.00,403.80 L162.30,404.60 L166.20,407.70 L170.80,411.50 L173.10,412.30 L176.90,415.40 L180.00,418.50 L181.50,417.70 L184.60,420.80 L189.20,424.60 L193.50,428.00" fill="none" stroke="#78ee34" stroke-width="1.5" stroke-linejoin="round" stroke-linecap="round"/>
<text x="51.50" y="423.80" font-size="9.4" stroke="#1a1a1a" stroke-width="0.15" font-weight="bold" textLength="32.80" lengthAdjust="spacingAndGlyphs">NES=2.2</text>
<text x="51.50" y="433.80" font-size="9.4" stroke="#1a1a1a" stroke-width="0.15" font-weight="bold" textLength="51.10" lengthAdjust="spacingAndGlyphs">FDR=8*10e-5</text>
<text x="44.80" y="518.60" font-size="5.2" text-anchor="middle" fill="#303030" stroke="#303030" stroke-width="0.12">0</text>
<text x="62.90" y="518.60" font-size="5.2" text-anchor="middle" fill="#303030" stroke="#303030" stroke-width="0.12">1,000</text>
<text x="81.00" y="518.60" font-size="5.2" text-anchor="middle" fill="#303030" stroke="#303030" stroke-width="0.12">2,000</text>
<text x="99.10" y="518.60" font-size="5.2" text-anchor="middle" fill="#303030" stroke="#303030" stroke-width="0.12">3,000</text>
<text x="117.20" y="518.60" font-size="5.2" text-anchor="middle" fill="#303030" stroke="#303030" stroke-width="0.12">4,000</text>
<text x="135.30" y="518.60" font-size="5.2" text-anchor="middle" fill="#303030" stroke="#303030" stroke-width="0.12">5,000</text>
<text x="153.40" y="518.60" font-size="5.2" text-anchor="middle" fill="#303030" stroke="#303030" stroke-width="0.12">6,000</text>
<text x="171.50" y="518.60" font-size="5.2" text-anchor="middle" fill="#303030" stroke="#303030" stroke-width="0.12">7,000</text>
<text x="189.60" y="518.60" font-size="5.2" text-anchor="middle" fill="#303030" stroke="#303030" stroke-width="0.12">8,000</text>
<text x="80.80" y="530.00" font-size="8.4" stroke="#1a1a1a" stroke-width="0.3" textLength="79.40" lengthAdjust="spacingAndGlyphs">Rank in ordered dataset</text>
<line x1="46.40" y1="537.70" x2="53.00" y2="537.70" stroke="#80d050" stroke-width="1.1"/>
<text x="55.30" y="539.60" font-size="5.6" fill="#333" stroke="#333" stroke-width="0.146" textLength="45.10" lengthAdjust="spacingAndGlyphs">Enrichment profile</text>
<line x1="104.30" y1="537.70" x2="109.50" y2="537.70" stroke="#222" stroke-width="1.1"/>
<text x="112.80" y="539.60" font-size="5.6" fill="#333" stroke="#333" stroke-width="0.146" textLength="9.80" lengthAdjust="spacingAndGlyphs">Hits</text>
<line x1="126.50" y1="537.70" x2="131.40" y2="537.70" stroke="#dcdcdc" stroke-width="1.1"/>
<line x1="134.70" y1="537.70" x2="139.60" y2="537.70" stroke="#8a8a8a" stroke-width="0.9"/>
<text x="144.50" y="539.60" font-size="5.6" fill="#333" stroke="#333" stroke-width="0.146" textLength="52.30" lengthAdjust="spacingAndGlyphs">Ranking metric scores</text>
<text x="270.90" y="358.60" font-size="7.4" stroke="#1a1a1a" stroke-width="0.08" textLength="111.70" lengthAdjust="spacingAndGlyphs">Enrichment plot : MYC_UP.V1_UP</text>
<text transform="translate(229.50,433.60) rotate(-90)" x="0" y="0" font-size="8" stroke="#1a1a1a" stroke-width="0.2" textLength="71.20" lengthAdjust="spacingAndGlyphs">Enrichment score (ES)</text>
<text transform="translate(222.10,519.70) rotate(-90)" x="0" y="0" font-size="8" stroke="#1a1a1a" stroke-width="0.2" textLength="63.80" lengthAdjust="spacingAndGlyphs">Ranked list metric</text>
<text transform="translate(231.00,510.80) rotate(-90)" x="0" y="0" font-size="8" stroke="#1a1a1a" stroke-width="0.2" textLength="47.50" lengthAdjust="spacingAndGlyphs">(Signal2Noise)</text>
<line x1="267.54" y1="362.30" x2="267.54" y2="433.20" stroke="#ebebeb" stroke-width="0.5"/>
<line x1="267.54" y1="462.00" x2="267.54" y2="509.40" stroke="#ebebeb" stroke-width="0.5"/>
<line x1="285.58" y1="362.30" x2="285.58" y2="433.20" stroke="#ebebeb" stroke-width="0.5"/>
<line x1="285.58" y1="462.00" x2="285.58" y2="509.40" stroke="#ebebeb" stroke-width="0.5"/>
<line x1="303.62" y1="362.30" x2="303.62" y2="433.20" stroke="#ebebeb" stroke-width="0.5"/>
<line x1="303.62" y1="462.00" x2="303.62" y2="509.40" stroke="#ebebeb" stroke-width="0.5"/>
<line x1="321.66" y1="362.30" x2="321.66" y2="433.20" stroke="#ebebeb" stroke-width="0.5"/>
<line x1="321.66" y1="462.00" x2="321.66" y2="509.40" stroke="#ebebeb" stroke-width="0.5"/>
<line x1="339.70" y1="362.30" x2="339.70" y2="433.20" stroke="#ebebeb" stroke-width="0.5"/>
<line x1="339.70" y1="462.00" x2="339.70" y2="509.40" stroke="#ebebeb" stroke-width="0.5"/>
<line x1="357.74" y1="362.30" x2="357.74" y2="433.20" stroke="#ebebeb" stroke-width="0.5"/>
<line x1="357.74" y1="462.00" x2="357.74" y2="509.40" stroke="#ebebeb" stroke-width="0.5"/>
<line x1="375.78" y1="362.30" x2="375.78" y2="433.20" stroke="#ebebeb" stroke-width="0.5"/>
<line x1="375.78" y1="462.00" x2="375.78" y2="509.40" stroke="#ebebeb" stroke-width="0.5"/>
<line x1="393.82" y1="362.30" x2="393.82" y2="433.20" stroke="#ebebeb" stroke-width="0.5"/>
<line x1="393.82" y1="462.00" x2="393.82" y2="509.40" stroke="#ebebeb" stroke-width="0.5"/>
<line x1="249.60" y1="424.20" x2="404.30" y2="424.20" stroke="#ebebeb" stroke-width="0.5"/>
<line x1="249.60" y1="418.13" x2="404.30" y2="418.13" stroke="#ebebeb" stroke-width="0.5"/>
<line x1="249.60" y1="412.06" x2="404.30" y2="412.06" stroke="#ebebeb" stroke-width="0.5"/>
<line x1="249.60" y1="405.99" x2="404.30" y2="405.99" stroke="#ebebeb" stroke-width="0.5"/>
<line x1="249.60" y1="399.92" x2="404.30" y2="399.92" stroke="#ebebeb" stroke-width="0.5"/>
<line x1="249.60" y1="393.85" x2="404.30" y2="393.85" stroke="#ebebeb" stroke-width="0.5"/>
<line x1="249.60" y1="387.78" x2="404.30" y2="387.78" stroke="#ebebeb" stroke-width="0.5"/>
<line x1="249.60" y1="381.71" x2="404.30" y2="381.71" stroke="#ebebeb" stroke-width="0.5"/>
<line x1="249.60" y1="375.64" x2="404.30" y2="375.64" stroke="#ebebeb" stroke-width="0.5"/>
<line x1="249.60" y1="369.57" x2="404.30" y2="369.57" stroke="#ebebeb" stroke-width="0.5"/>
<line x1="249.60" y1="363.50" x2="404.30" y2="363.50" stroke="#ebebeb" stroke-width="0.5"/>
<line x1="249.60" y1="430.00" x2="404.30" y2="430.00" stroke="#ebebeb" stroke-width="0.5"/>
<line x1="249.60" y1="464.00" x2="404.30" y2="464.00" stroke="#ebebeb" stroke-width="0.5"/>
<line x1="249.60" y1="475.00" x2="404.30" y2="475.00" stroke="#ebebeb" stroke-width="0.5"/>
<line x1="249.60" y1="485.60" x2="404.30" y2="485.60" stroke="#ebebeb" stroke-width="0.5"/>
<line x1="249.60" y1="496.60" x2="404.30" y2="496.60" stroke="#ebebeb" stroke-width="0.5"/>
<line x1="249.60" y1="507.20" x2="404.30" y2="507.20" stroke="#ebebeb" stroke-width="0.5"/>
<rect x="249.60" y="362.30" width="154.70" height="147.10" fill="none" stroke="#cfcfcf" stroke-width="0.7"/>
<line x1="249.60" y1="433.20" x2="404.30" y2="433.20" stroke="#bdbdbd" stroke-width="0.8"/>
<line x1="249.60" y1="462.00" x2="404.30" y2="462.00" stroke="#d6d6d6" stroke-width="0.6"/>
<line x1="249.60" y1="423.60" x2="404.30" y2="423.60" stroke="#c4c4c4" stroke-width="0.9"/>
<text x="245.80" y="426.00" font-size="5.2" text-anchor="end" fill="#303030" stroke="#303030" stroke-width="0.12">0.00</text>
<text x="245.80" y="419.93" font-size="5.2" text-anchor="end" fill="#303030" stroke="#303030" stroke-width="0.12">0.05</text>
<text x="245.80" y="413.86" font-size="5.2" text-anchor="end" fill="#303030" stroke="#303030" stroke-width="0.12">0.10</text>
<text x="245.80" y="407.79" font-size="5.2" text-anchor="end" fill="#303030" stroke="#303030" stroke-width="0.12">0.15</text>
<text x="245.80" y="401.72" font-size="5.2" text-anchor="end" fill="#303030" stroke="#303030" stroke-width="0.12">0.20</text>
<text x="245.80" y="395.65" font-size="5.2" text-anchor="end" fill="#303030" stroke="#303030" stroke-width="0.12">0.25</text>
<text x="245.80" y="389.58" font-size="5.2" text-anchor="end" fill="#303030" stroke="#303030" stroke-width="0.12">0.30</text>
<text x="245.80" y="383.51" font-size="5.2" text-anchor="end" fill="#303030" stroke="#303030" stroke-width="0.12">0.35</text>
<text x="245.80" y="377.44" font-size="5.2" text-anchor="end" fill="#303030" stroke="#303030" stroke-width="0.12">0.40</text>
<text x="245.80" y="371.37" font-size="5.2" text-anchor="end" fill="#303030" stroke="#303030" stroke-width="0.12">0.45</text>
<text x="245.80" y="365.30" font-size="5.2" text-anchor="end" fill="#303030" stroke="#303030" stroke-width="0.12">0.50</text>
<text x="245.80" y="431.80" font-size="5.2" text-anchor="end" fill="#303030" stroke="#303030" stroke-width="0.12">-0.05</text>
<text x="245.80" y="465.80" font-size="5.2" text-anchor="end" fill="#303030" stroke="#303030" stroke-width="0.12">5.0</text>
<text x="245.80" y="476.80" font-size="5.2" text-anchor="end" fill="#303030" stroke="#303030" stroke-width="0.12">2.5</text>
<text x="245.80" y="487.40" font-size="5.2" text-anchor="end" fill="#303030" stroke="#303030" stroke-width="0.12">0.0</text>
<text x="245.80" y="498.40" font-size="5.2" text-anchor="end" fill="#303030" stroke="#303030" stroke-width="0.12">-2.5</text>
<text x="245.80" y="509.00" font-size="5.2" text-anchor="end" fill="#303030" stroke="#303030" stroke-width="0.12">-5.0</text>
<rect x="250.15" y="434.10" width="1.30" height="21.50" fill="#888"/>
<rect x="251.75" y="434.10" width="1.30" height="21.50" fill="#999"/>
<rect x="254.10" y="434.10" width="1.20" height="21.50" fill="#333"/>
<rect x="255.85" y="434.10" width="1.30" height="21.50" fill="#888"/>
<rect x="257.90" y="434.10" width="1.20" height="21.50" fill="#111"/>
<rect x="259.85" y="434.10" width="1.30" height="21.50" fill="#888"/>
<rect x="261.80" y="434.10" width="1.20" height="21.50" fill="#333"/>
<rect x="263.40" y="434.10" width="1.20" height="21.50" fill="#aaa"/>
<rect x="264.60" y="434.10" width="1.20" height="21.50" fill="#999"/>
<rect x="266.15" y="434.10" width="1.10" height="21.50" fill="#333"/>
<rect x="267.95" y="434.10" width="1.10" height="21.50" fill="#333"/>
<rect x="270.20" y="434.10" width="1.20" height="21.50" fill="#111"/>
<rect x="272.15" y="434.10" width="1.30" height="21.50" fill="#999"/>
<rect x="274.35" y="434.10" width="1.30" height="21.50" fill="#999"/>
<rect x="277.20" y="434.10" width="1.20" height="21.50" fill="#333"/>
<rect x="278.80" y="434.10" width="1.20" height="21.50" fill="#aaa"/>
<rect x="280.15" y="434.10" width="1.30" height="21.50" fill="#999"/>
<rect x="281.80" y="434.10" width="1.20" height="21.50" fill="#aaa"/>
<rect x="283.25" y="434.10" width="1.30" height="21.50" fill="#999"/>
<rect x="284.60" y="434.10" width="1.80" height="21.50" fill="#999"/>
<rect x="286.65" y="434.10" width="1.30" height="21.50" fill="#999"/>
<rect x="288.65" y="434.10" width="1.30" height="21.50" fill="#999"/>
<rect x="291.00" y="434.10" width="1.20" height="21.50" fill="#333"/>
<rect x="293.25" y="434.10" width="1.30" height="21.50" fill="#999"/>
<rect x="295.60" y="434.10" width="1.20" height="21.50" fill="#333"/>
<rect x="298.70" y="434.10" width="1.20" height="21.50" fill="#111"/>
<rect x="304.95" y="434.10" width="1.10" height="21.50" fill="#999"/>
<rect x="309.55" y="434.10" width="1.10" height="21.50" fill="#999"/>
<rect x="314.45" y="434.10" width="1.10" height="21.50" fill="#999"/>
<rect x="321.85" y="434.10" width="1.10" height="21.50" fill="#999"/>
<rect x="326.05" y="434.10" width="0.90" height="21.50" fill="#999"/>
<rect x="329.15" y="434.10" width="0.90" height="21.50" fill="#444"/>
<rect x="338.05" y="434.10" width="0.90" height="21.50" fill="#444"/>
<rect x="353.45" y="434.10" width="0.90" height="21.50" fill="#888"/>
<rect x="361.75" y="434.10" width="0.90" height="21.50" fill="#444"/>
<rect x="369.15" y="434.10" width="0.90" height="21.50" fill="#777"/>
<rect x="370.30" y="434.10" width="1.00" height="21.50" fill="#222"/>
<rect x="373.45" y="434.10" width="0.90" height="21.50" fill="#888"/>
<rect x="379.15" y="434.10" width="0.90" height="21.50" fill="#444"/>
<rect x="388.35" y="434.10" width="0.90" height="21.50" fill="#888"/>
<rect x="393.75" y="434.10" width="0.90" height="21.50" fill="#444"/>
<rect x="250.00" y="456.30" width="3.15" height="5.70" fill="#d01e2a"/>
<rect x="252.45" y="456.30" width="25.63" height="5.70" fill="#d8424c"/>
<rect x="277.38" y="456.30" width="16.30" height="5.70" fill="#dc5866"/>
<rect x="292.98" y="456.30" width="17.77" height="5.70" fill="#e27684"/>
<rect x="310.06" y="456.30" width="17.87" height="5.70" fill="#e8b2e0"/>
<rect x="327.23" y="456.30" width="21.01" height="5.70" fill="#d8d8fa"/>
<rect x="347.54" y="456.30" width="16.20" height="5.70" fill="#c6c6f4"/>
<rect x="363.05" y="456.30" width="14.73" height="5.70" fill="#7070e2"/>
<rect x="377.08" y="456.30" width="13.16" height="5.70" fill="#4848d6"/>
<rect x="389.54" y="456.30" width="7.46" height="5.70" fill="#1c1ca4"/>
<path d="M250.00,485.60 L250.00,461.77 L250.49,465.34 L251.38,471.74 L252.16,475.31 L253.92,477.20 L256.47,478.56 L259.80,479.93 L264.85,480.77 L271.76,481.72 L280.13,482.66 L288.81,483.19 L297.19,483.50 L310.71,484.03 L323.50,484.66 L328.64,485.60 L338.20,486.34 L367.60,486.65 L389.65,487.07 L395.53,487.91 L397.00,487.91 L397.00,485.60 Z" fill="#c2c2c2"/>
<line x1="328.50" y1="462.00" x2="328.50" y2="509.40" stroke="#a0a0a0" stroke-width="0.5" stroke-dasharray="1,1"/>
<text x="312.00" y="485.00" font-size="3.4" fill="#222" stroke="#222" stroke-width="0.088" textLength="32.00" lengthAdjust="spacingAndGlyphs">Zero cross at 4376</text>
<text x="251.20" y="465.40" font-size="3.4" fill="#d42020" stroke="#d42020" stroke-width="0.088" textLength="46.40" lengthAdjust="spacingAndGlyphs">'ON' (positively correlated)</text>
<text x="327.50" y="507.00" font-size="3.4" fill="#2a2ae0" stroke="#2a2ae0" stroke-width="0.088" textLength="46.00" lengthAdjust="spacingAndGlyphs">'OFF' (negatively correlated)</text>
<rect x="249.00" y="488.30" width="38.20" height="21.00" fill="#cf1f2b"/>
<rect x="364.30" y="488.70" width="38.50" height="20.50" fill="#4a93d8"/>
<text x="268.10" y="497.10" font-size="5.6" text-anchor="middle" fill="#2a0808" stroke="#2a0808" stroke-width="0.146" textLength="15.60" lengthAdjust="spacingAndGlyphs">Hoxa9</text>
<text x="268.10" y="503.70" font-size="5.6" text-anchor="middle" fill="#2a0808" stroke="#2a0808" stroke-width="0.146" textLength="6.40" lengthAdjust="spacingAndGlyphs">on</text>
<text x="383.55" y="497.50" font-size="5.6" text-anchor="middle" fill="#0a1a30" stroke="#0a1a30" stroke-width="0.146" textLength="15.60" lengthAdjust="spacingAndGlyphs">Hoxa9</text>
<text x="383.55" y="504.10" font-size="5.6" text-anchor="middle" fill="#0a1a30" stroke="#0a1a30" stroke-width="0.146" textLength="6.80" lengthAdjust="spacingAndGlyphs">off</text>
<path d="M250.40,424.90 L252.40,420.00 L253.90,415.40 L255.00,410.00 L257.00,408.90 L259.00,404.90 L260.10,398.50 L261.20,392.30 L262.40,390.00 L263.20,387.70 L265.50,384.60 L267.80,379.70 L270.10,374.20 L272.40,370.00 L274.70,369.50 L277.80,370.20 L280.80,370.80 L283.90,372.00 L286.20,370.50 L288.50,369.50 L290.80,366.90 L294.70,365.80 L297.80,366.90 L300.10,366.90 L303.90,370.00 L308.50,372.60 L314.70,376.60 L320.80,380.80 L325.00,384.60 L331.20,390.50 L338.80,396.60 L346.50,403.40 L354.20,409.20 L361.90,414.60 L368.80,419.70 L371.20,418.50 L373.90,418.80 L376.50,420.80 L378.80,423.10 L380.40,420.80 L383.50,423.10 L388.10,426.90 L389.60,425.40 L393.50,429.20 L395.00,421.80 L397.30,423.40" fill="none" stroke="#78ee34" stroke-width="1.5" stroke-linejoin="round" stroke-linecap="round"/>
<text x="257.80" y="423.40" font-size="9.4" stroke="#1a1a1a" stroke-width="0.15" font-weight="bold" textLength="33.00" lengthAdjust="spacingAndGlyphs">NES=2.0</text>
<text x="257.50" y="433.10" font-size="9.4" stroke="#1a1a1a" stroke-width="0.15" font-weight="bold" textLength="43.00" lengthAdjust="spacingAndGlyphs">FDR=0.007</text>
<text x="249.50" y="518.60" font-size="5.2" text-anchor="middle" fill="#303030" stroke="#303030" stroke-width="0.12">0</text>
<text x="267.54" y="518.60" font-size="5.2" text-anchor="middle" fill="#303030" stroke="#303030" stroke-width="0.12">1,000</text>
<text x="285.58" y="518.60" font-size="5.2" text-anchor="middle" fill="#303030" stroke="#303030" stroke-width="0.12">2,000</text>
<text x="303.62" y="518.60" font-size="5.2" text-anchor="middle" fill="#303030" stroke="#303030" stroke-width="0.12">3,000</text>
<text x="321.66" y="518.60" font-size="5.2" text-anchor="middle" fill="#303030" stroke="#303030" stroke-width="0.12">4,000</text>
<text x="339.70" y="518.60" font-size="5.2" text-anchor="middle" fill="#303030" stroke="#303030" stroke-width="0.12">5,000</text>
<text x="357.74" y="518.60" font-size="5.2" text-anchor="middle" fill="#303030" stroke="#303030" stroke-width="0.12">6,000</text>
<text x="375.78" y="518.60" font-size="5.2" text-anchor="middle" fill="#303030" stroke="#303030" stroke-width="0.12">7,000</text>
<text x="393.82" y="518.60" font-size="5.2" text-anchor="middle" fill="#303030" stroke="#303030" stroke-width="0.12">8,000</text>
<text x="286.70" y="530.00" font-size="8.4" stroke="#1a1a1a" stroke-width="0.3" textLength="79.10" lengthAdjust="spacingAndGlyphs">Rank in ordered dataset</text>
<line x1="242.60" y1="537.70" x2="248.20" y2="537.70" stroke="#80d050" stroke-width="1.1"/>
<text x="251.40" y="539.60" font-size="5.6" fill="#333" stroke="#333" stroke-width="0.146" textLength="45.80" lengthAdjust="spacingAndGlyphs">Enrichment profile</text>
<line x1="300.50" y1="537.70" x2="305.40" y2="537.70" stroke="#222" stroke-width="1.1"/>
<text x="309.30" y="539.60" font-size="5.6" fill="#333" stroke="#333" stroke-width="0.146" textLength="9.70" lengthAdjust="spacingAndGlyphs">Hits</text>
<line x1="322.40" y1="537.70" x2="327.60" y2="537.70" stroke="#dcdcdc" stroke-width="1.1"/>
<line x1="331.50" y1="537.70" x2="336.40" y2="537.70" stroke="#8a8a8a" stroke-width="0.9"/>
<text x="340.70" y="539.60" font-size="5.6" fill="#333" stroke="#333" stroke-width="0.146" textLength="52.30" lengthAdjust="spacingAndGlyphs">Ranking metric scores</text>
<text x="10.00" y="18.50" font-size="12" textLength="7.30" lengthAdjust="spacingAndGlyphs">A</text>
<text x="16.90" y="38.20" font-size="8.4" stroke="#1a1a1a" stroke-width="0.07" textLength="20.80" lengthAdjust="spacingAndGlyphs">+TAM</text>
<text x="17.00" y="48.80" font-size="8.4" stroke="#1a1a1a" stroke-width="0.07" textLength="21.00" lengthAdjust="spacingAndGlyphs">active</text>
<defs><radialGradient id="gHox" cx="0.5" cy="0.5" r="0.5"><stop offset="0.55" stop-color="#faf0de"/><stop offset="1" stop-color="#ead2a6"/></radialGradient><radialGradient id="gER" cx="0.5" cy="0.5" r="0.5"><stop offset="0.25" stop-color="#f4c4c6"/><stop offset="1" stop-color="#d45a66"/></radialGradient><radialGradient id="gTAM" cx="0.5" cy="0.5" r="0.5"><stop offset="0.2" stop-color="#fbe8ec"/><stop offset="1" stop-color="#e090a4"/></radialGradient></defs>
<ellipse cx="36.1" cy="70.8" rx="10.5" ry="11.6" fill="url(#gER)"/>
<circle cx="45.8" cy="61.8" r="4.0" fill="url(#gTAM)"/>
<ellipse cx="22.7" cy="65.5" rx="15" ry="13" fill="url(#gHox)"/>
<text x="13.60" y="67.90" font-size="6.6" stroke="#1a1a1a" stroke-width="0.07" textLength="18.60" lengthAdjust="spacingAndGlyphs">Hoxa9</text>
<text x="35.60" y="76.40" font-size="6.6" stroke="#1a1a1a" stroke-width="0.07" textLength="7.00" lengthAdjust="spacingAndGlyphs">ER</text>
<text x="39.20" y="61.60" font-size="6.0" stroke="#1a1a1a" stroke-width="0.07" textLength="12.80" lengthAdjust="spacingAndGlyphs">TAM</text>
<ellipse cx="138.8" cy="36.4" rx="10.6" ry="11.8" fill="url(#gER)"/>
<ellipse cx="125.4" cy="31.0" rx="15" ry="12.8" fill="url(#gHox)"/>
<text x="115.80" y="34.40" font-size="6.6" stroke="#1a1a1a" stroke-width="0.07" textLength="18.80" lengthAdjust="spacingAndGlyphs">Hoxa9</text>
<text x="138.80" y="42.50" font-size="6.6" stroke="#1a1a1a" stroke-width="0.07" textLength="7.20" lengthAdjust="spacingAndGlyphs">ER</text>
<text x="78.80" y="40.40" font-size="8.4" stroke="#1a1a1a" stroke-width="0.07" textLength="22.50" lengthAdjust="spacingAndGlyphs">Hoxa9</text>
<text x="70.00" y="50.40" font-size="8.4" stroke="#1a1a1a" stroke-width="0.07" textLength="39.60" lengthAdjust="spacingAndGlyphs">inactivated</text>
<path d="M70,65.8 C90,66.6 108,63.2 118.9,52.8" fill="none" stroke="#111" stroke-width="1.2"/>
<path d="M119.7,47.0 L115.3,54.0 L119.0,52.4 L122.1,55.3 Z" fill="#111"/>
<line x1="58.70" y1="56.00" x2="58.70" y2="88.50" stroke="#111" stroke-width="1"/>
<path d="M61.0,77.3 Q63.9,79.5 61.0,81.7 M63.7,77.3 Q66.6,79.5 63.7,81.7" fill="none" stroke="#111" stroke-width="1.35"/>
<line x1="65.60" y1="79.60" x2="69.70" y2="79.60" stroke="#111" stroke-width="0.9"/>
<line x1="72.10" y1="79.60" x2="74.90" y2="79.60" stroke="#111" stroke-width="1.0"/>
<text x="77.90" y="81.10" font-size="7.6" stroke="#1a1a1a" stroke-width="0.07" textLength="15.10" lengthAdjust="spacingAndGlyphs">TAM</text>
<line x1="99.20" y1="79.30" x2="208.00" y2="79.30" stroke="#111" stroke-width="1"/>
<path d="M214.4,79.3 L205.8,76.4 L207.4,79.3 L205.8,82.2 Z" fill="#111"/>
<rect x="8.40" y="87.90" width="215.20" height="2.00" fill="#0c0c0c"/>
<rect x="45.40" y="90.60" width="9.00" height="3.60" fill="#f3e88e" stroke="#222" stroke-width="0.7"/>
<rect x="72.30" y="90.60" width="8.90" height="3.60" fill="#f3e88e" stroke="#222" stroke-width="0.7"/>
<rect x="100.60" y="90.60" width="8.60" height="3.60" fill="#f3e88e" stroke="#222" stroke-width="0.7"/>
<rect x="129.40" y="90.60" width="8.60" height="3.60" fill="#f3e88e" stroke="#222" stroke-width="0.7"/>
<rect x="166.40" y="90.60" width="9.10" height="3.60" fill="#f3e88e" stroke="#222" stroke-width="0.7"/>
<rect x="200.90" y="90.60" width="9.50" height="3.60" fill="#f3e88e" stroke="#222" stroke-width="0.7"/>
<path d="M58.70,90.60 L62.10,97.00 L60.20,97.00 L60.20,103.70 L57.20,103.70 L57.20,97.00 L55.30,97.00 Z" fill="#fff" stroke="#111" stroke-width="0.9" stroke-linejoin="miter"/>
<path d="M83.90,90.60 L87.30,97.00 L85.40,97.00 L85.40,103.70 L82.40,103.70 L82.40,97.00 L80.50,97.00 Z" fill="#fff" stroke="#111" stroke-width="0.9" stroke-linejoin="miter"/>
<path d="M111.60,90.60 L115.00,97.00 L113.10,97.00 L113.10,103.70 L110.10,103.70 L110.10,97.00 L108.20,97.00 Z" fill="#fff" stroke="#111" stroke-width="0.9" stroke-linejoin="miter"/>
<path d="M141.60,90.60 L145.00,97.00 L143.10,97.00 L143.10,103.70 L140.10,103.70 L140.10,97.00 L138.20,97.00 Z" fill="#fff" stroke="#111" stroke-width="0.9" stroke-linejoin="miter"/>
<path d="M178.70,90.60 L182.10,97.00 L180.20,97.00 L180.20,103.70 L177.20,103.70 L177.20,97.00 L175.30,97.00 Z" fill="#fff" stroke="#111" stroke-width="0.9" stroke-linejoin="miter"/>
<path d="M214.60,90.60 L218.00,97.00 L216.10,97.00 L216.10,103.70 L213.10,103.70 L213.10,97.00 L211.20,97.00 Z" fill="#fff" stroke="#111" stroke-width="0.9" stroke-linejoin="miter"/>
<text x="64.10" y="103.70" font-size="8.4" stroke="#1a1a1a" stroke-width="0.07" textLength="9.30" lengthAdjust="spacingAndGlyphs">0h</text>
<text x="90.10" y="103.70" font-size="8.4" stroke="#1a1a1a" stroke-width="0.07" textLength="8.40" lengthAdjust="spacingAndGlyphs">8h</text>
<text x="117.00" y="103.70" font-size="8.4" stroke="#1a1a1a" stroke-width="0.07" textLength="14.00" lengthAdjust="spacingAndGlyphs">16h</text>
<text x="147.30" y="103.70" font-size="8.4" stroke="#1a1a1a" stroke-width="0.07" textLength="14.60" lengthAdjust="spacingAndGlyphs">24h</text>
<text x="184.00" y="103.70" font-size="8.4" stroke="#1a1a1a" stroke-width="0.07" textLength="14.60" lengthAdjust="spacingAndGlyphs">48h</text>
<text x="225.60" y="103.70" font-size="8.4" stroke="#1a1a1a" stroke-width="0.07" textLength="14.60" lengthAdjust="spacingAndGlyphs">72h</text>
<text x="84.60" y="118.00" font-size="8.4" stroke="#1a1a1a" stroke-width="0.07" textLength="66.60" lengthAdjust="spacingAndGlyphs">repeated sampling</text>
<rect x="10.00" y="128.40" width="8.00" height="3.80" fill="#f3e88e" stroke="#222" stroke-width="0.7"/>
<text x="22.50" y="133.60" font-size="8.4" stroke="#1a1a1a" stroke-width="0.07" textLength="57.50" lengthAdjust="spacingAndGlyphs">1h 4-thio-uridine</text>
<path d="M88.40,125.8 L91.80,130.0 L89.90,130.0 L89.90,134.4 L86.90,134.4 L86.90,130.0 L85.00,130.0 Z" fill="#fff" stroke="#111" stroke-width="0.9"/>
<text x="95.80" y="133.60" font-size="8.4" stroke="#1a1a1a" stroke-width="0.07" textLength="72.20" lengthAdjust="spacingAndGlyphs">nascent RNA isolation</text>
<text x="250.60" y="18.30" font-size="10" textLength="6.60" lengthAdjust="spacingAndGlyphs">B</text>
<text x="297.70" y="16.30" font-size="8.4" stroke="#1a1a1a" stroke-width="0.07" textLength="32.70" lengthAdjust="spacingAndGlyphs">activated</text>
<text x="302.50" y="25.30" font-size="8.4" stroke="#1a1a1a" stroke-width="0.07" textLength="22.50" lengthAdjust="spacingAndGlyphs">(1509)</text>
<text x="364.60" y="16.30" font-size="8.4" stroke="#1a1a1a" stroke-width="0.07" textLength="34.20" lengthAdjust="spacingAndGlyphs">repressed</text>
<text x="370.80" y="25.30" font-size="8.4" stroke="#1a1a1a" stroke-width="0.07" textLength="22.20" lengthAdjust="spacingAndGlyphs">(1429)</text>
<circle cx="314.2" cy="62.2" r="33.9" fill="#f0d0a8"/>
<circle cx="381.7" cy="64.2" r="32.6" fill="#dde5ee"/>
<circle cx="314.2" cy="97.5" r="15.8" fill="#c7d5cb" fill-opacity="0.5"/>
<circle cx="382.0" cy="98.1" r="15.8" fill="#c7d5cb" fill-opacity="0.5"/>
<text x="252.50" y="63.10" font-size="8.3" stroke="#1a1a1a" stroke-width="0.07" textLength="22.50" lengthAdjust="spacingAndGlyphs">Hoxa9</text>
<text x="252.00" y="106.20" font-size="8.4" stroke="#1a1a1a" stroke-width="0.07" textLength="28.80" lengthAdjust="spacingAndGlyphs">MLLENL</text>
<text x="306.30" y="67.70" font-size="8.4" stroke="#1a1a1a" stroke-width="0.07" textLength="16.00" lengthAdjust="spacingAndGlyphs">1452</text>
<text x="310.20" y="92.70" font-size="8.4" stroke="#1a1a1a" stroke-width="0.07" textLength="7.70" lengthAdjust="spacingAndGlyphs">57</text>
<text x="308.30" y="108.00" font-size="8.4" stroke="#1a1a1a" stroke-width="0.07" textLength="12.10" lengthAdjust="spacingAndGlyphs">108</text>
<text x="373.80" y="68.30" font-size="8.4" stroke="#1a1a1a" stroke-width="0.07" textLength="15.80" lengthAdjust="spacingAndGlyphs">1421</text>
<text x="379.60" y="93.60" font-size="8.4" stroke="#1a1a1a" stroke-width="0.07" textLength="3.90" lengthAdjust="spacingAndGlyphs">8</text>
<text x="375.80" y="109.00" font-size="8.4" stroke="#1a1a1a" stroke-width="0.07" textLength="11.90" lengthAdjust="spacingAndGlyphs">157</text>
<path d="M274.7,119.2 L274.7,117.8 L266.9,117.8 L271.0,123.0 L266.9,128.3 L275.1,128.3 L275.1,126.8" fill="none" stroke="#1a1a1a" stroke-width="1.45" stroke-linejoin="miter" stroke-miterlimit="6"/>
<text x="276.60" y="128.30" font-size="10.5" stroke="#1a1a1a" stroke-width="0.07" textLength="10.90" lengthAdjust="spacingAndGlyphs">log</text>
<text x="287.40" y="129.90" font-size="5.5" stroke="#1a1a1a" stroke-width="0.07" textLength="2.60" lengthAdjust="spacingAndGlyphs">2</text>
<text x="290.60" y="130.80" font-size="15" stroke="#1a1a1a" stroke-width="0.07" textLength="3.60" lengthAdjust="spacingAndGlyphs" font-weight="300">(</text>
<text x="297.00" y="123.70" font-size="6.8" stroke="#1a1a1a" stroke-width="0.07" textLength="31.10" lengthAdjust="spacingAndGlyphs">RPKM 0h</text>
<line x1="297.00" y1="125.00" x2="328.20" y2="125.00" stroke="#1a1a1a" stroke-width="0.7"/>
<text x="297.00" y="131.60" font-size="6.8" stroke="#1a1a1a" stroke-width="0.07" textLength="31.10" lengthAdjust="spacingAndGlyphs">RPKM nh</text>
<text x="329.20" y="130.80" font-size="15" stroke="#1a1a1a" stroke-width="0.07" textLength="3.60" lengthAdjust="spacingAndGlyphs">)</text>
<text x="336.20" y="123.80" font-size="7.2" stroke="#1a1a1a" stroke-width="0.07" textLength="22.30" lengthAdjust="spacingAndGlyphs">&lt;= -1.5</text>
<text x="336.20" y="132.70" font-size="7.2" stroke="#1a1a1a" stroke-width="0.07" textLength="19.80" lengthAdjust="spacingAndGlyphs">&gt;= 1.5</text>
<path d="M363.6,120.0 L367.2,120.0 L367.2,118.6 L370.4,121.3 L367.2,124.0 L367.2,122.6 L363.6,122.6 Z" fill="#e8a040"/>
<path d="M363.6,128.7 L367.2,128.7 L367.2,127.3 L370.4,130.0 L367.2,132.7 L367.2,131.3 L363.6,131.3 Z" fill="#bcd2e2"/>
<text x="375.20" y="123.80" font-size="7.6" stroke="#1a1a1a" stroke-width="0.07" textLength="29.80" lengthAdjust="spacingAndGlyphs">activated</text>
<text x="375.20" y="131.50" font-size="7.6" stroke="#1a1a1a" stroke-width="0.07" textLength="32.70" lengthAdjust="spacingAndGlyphs">repressed</text>
<text x="250.80" y="139.60" font-size="6.8" stroke="#1a1a1a" stroke-width="0.07" textLength="37.10" lengthAdjust="spacingAndGlyphs">n=24,48,72</text>
<text x="426.00" y="18.70" font-size="12.8" textLength="7.30" lengthAdjust="spacingAndGlyphs">C</text>
<rect x="426.80" y="24.50" width="85.20" height="7.00" fill="#ffffff" stroke="#dcdcdc" stroke-width="0.6"/>
<line x1="455.20" y1="24.50" x2="455.20" y2="31.50" stroke="#dcdcdc" stroke-width="0.6"/>
<line x1="483.20" y1="24.50" x2="483.20" y2="31.50" stroke="#dcdcdc" stroke-width="0.6"/>
<text x="457.50" y="30.40" font-size="6.6" stroke="#1a1a1a" stroke-width="0.172" textLength="18.50" lengthAdjust="spacingAndGlyphs">Hoxa9</text>
<text x="486.00" y="30.40" font-size="6.6" stroke="#1a1a1a" stroke-width="0.172" textLength="22.80" lengthAdjust="spacingAndGlyphs">MLLENL</text>
<rect x="455.20" y="31.50" width="28.60" height="8.33" fill="#df846a"/>
<rect x="483.20" y="31.50" width="28.80" height="8.33" fill="#e49470"/>
<rect x="455.20" y="38.93" width="28.60" height="8.33" fill="#e38e6c"/>
<rect x="483.20" y="38.93" width="28.80" height="8.33" fill="#dc6a66"/>
<rect x="455.20" y="46.36" width="28.60" height="8.33" fill="#e38f6c"/>
<rect x="483.20" y="46.36" width="28.80" height="8.33" fill="#f0d07c"/>
<rect x="455.20" y="53.79" width="28.60" height="8.33" fill="#e4916d"/>
<rect x="483.20" y="53.79" width="28.80" height="8.33" fill="#de7068"/>
<rect x="455.20" y="61.22" width="28.60" height="8.33" fill="#e4926d"/>
<rect x="483.20" y="61.22" width="28.80" height="8.33" fill="#e8a070"/>
<rect x="455.20" y="68.65" width="28.60" height="8.33" fill="#e6986e"/>
<rect x="483.20" y="68.65" width="28.80" height="8.33" fill="#e8a470"/>
<rect x="455.20" y="76.08" width="28.60" height="8.33" fill="#e6996e"/>
<rect x="483.20" y="76.08" width="28.80" height="8.33" fill="#f0d07c"/>
<rect x="455.20" y="83.51" width="28.60" height="8.33" fill="#e69b6f"/>
<rect x="483.20" y="83.51" width="28.80" height="8.33" fill="#e6966c"/>
<rect x="455.20" y="90.94" width="28.60" height="8.33" fill="#e79c6f"/>
<rect x="483.20" y="90.94" width="28.80" height="8.33" fill="#ecb876"/>
<rect x="455.20" y="98.37" width="28.60" height="8.33" fill="#e79e70"/>
<rect x="483.20" y="98.37" width="28.80" height="8.33" fill="#eaa870"/>
<rect x="455.20" y="105.80" width="28.60" height="8.33" fill="#e79f70"/>
<rect x="483.20" y="105.80" width="28.80" height="8.33" fill="#e8966c"/>
<rect x="455.20" y="113.23" width="28.60" height="8.33" fill="#e7a070"/>
<rect x="483.20" y="113.23" width="28.80" height="8.33" fill="#e8966c"/>
<rect x="455.20" y="120.66" width="28.60" height="8.33" fill="#e7a271"/>
<rect x="483.20" y="120.66" width="28.80" height="8.33" fill="#eec478"/>
<rect x="455.20" y="128.09" width="28.60" height="8.33" fill="#e8a371"/>
<rect x="483.20" y="128.09" width="28.80" height="8.33" fill="#eec478"/>
<rect x="455.20" y="135.52" width="28.60" height="8.33" fill="#e8a572"/>
<rect x="483.20" y="135.52" width="28.80" height="8.33" fill="#eebc76"/>
<rect x="455.20" y="142.95" width="28.60" height="8.33" fill="#e8a672"/>
<rect x="483.20" y="142.95" width="28.80" height="8.33" fill="#e8936c"/>
<rect x="455.20" y="150.38" width="28.60" height="8.33" fill="#e8a772"/>
<rect x="483.20" y="150.38" width="28.80" height="8.33" fill="#eec47a"/>
<rect x="455.20" y="157.81" width="28.60" height="8.33" fill="#e8a873"/>
<rect x="483.20" y="157.81" width="28.80" height="8.33" fill="#e8996e"/>
<rect x="455.20" y="165.24" width="28.60" height="8.33" fill="#e9a973"/>
<rect x="483.20" y="165.24" width="28.80" height="8.33" fill="#eec47a"/>
<rect x="455.20" y="172.67" width="28.60" height="8.33" fill="#e9ab73"/>
<rect x="483.20" y="172.67" width="28.80" height="8.33" fill="#e06c68"/>
<rect x="455.20" y="180.10" width="28.60" height="8.33" fill="#e9ac73"/>
<rect x="483.20" y="180.10" width="28.80" height="8.33" fill="#eec47a"/>
<rect x="455.20" y="187.53" width="28.60" height="8.33" fill="#e9ad74"/>
<rect x="483.20" y="187.53" width="28.80" height="8.33" fill="#f2d67c"/>
<rect x="455.20" y="194.96" width="28.60" height="8.33" fill="#eaae74"/>
<rect x="483.20" y="194.96" width="28.80" height="8.33" fill="#dc5e62"/>
<rect x="455.20" y="202.39" width="28.60" height="8.33" fill="#eaaf74"/>
<rect x="483.20" y="202.39" width="28.80" height="8.33" fill="#f4e07c"/>
<rect x="455.20" y="209.82" width="28.60" height="8.33" fill="#eab075"/>
<rect x="483.20" y="209.82" width="28.80" height="8.33" fill="#eec47a"/>
<rect x="455.20" y="217.25" width="28.60" height="8.33" fill="#eab175"/>
<rect x="483.20" y="217.25" width="28.80" height="8.33" fill="#f0c87a"/>
<rect x="455.20" y="224.68" width="28.60" height="8.33" fill="#eab375"/>
<rect x="483.20" y="224.68" width="28.80" height="8.33" fill="#f4dc7c"/>
<rect x="455.20" y="232.11" width="28.60" height="8.33" fill="#ebb475"/>
<rect x="483.20" y="232.11" width="28.80" height="8.33" fill="#f0cc7a"/>
<rect x="455.20" y="239.54" width="28.60" height="8.33" fill="#ebb576"/>
<rect x="483.20" y="239.54" width="28.80" height="8.33" fill="#eec47a"/>
<rect x="455.20" y="246.97" width="28.60" height="8.33" fill="#ebb676"/>
<rect x="483.20" y="246.97" width="28.80" height="8.33" fill="#eec07a"/>
<rect x="455.20" y="254.40" width="28.60" height="8.33" fill="#ebb777"/>
<rect x="483.20" y="254.40" width="28.80" height="8.33" fill="#eec07a"/>
<rect x="455.20" y="261.83" width="28.60" height="8.33" fill="#ecb977"/>
<rect x="483.20" y="261.83" width="28.80" height="8.33" fill="#f0cc7c"/>
<rect x="455.20" y="269.26" width="28.60" height="8.33" fill="#ecba78"/>
<rect x="483.20" y="269.26" width="28.80" height="8.33" fill="#f0c87a"/>
<rect x="455.20" y="276.69" width="28.60" height="8.33" fill="#ecbb79"/>
<rect x="483.20" y="276.69" width="28.80" height="8.33" fill="#f4e07c"/>
<rect x="455.20" y="284.12" width="28.60" height="8.33" fill="#edbd79"/>
<rect x="483.20" y="284.12" width="28.80" height="8.33" fill="#eab074"/>
<rect x="455.20" y="291.55" width="28.60" height="8.33" fill="#edbe7a"/>
<rect x="483.20" y="291.55" width="28.80" height="8.33" fill="#f0c87a"/>
<rect x="455.20" y="298.98" width="28.60" height="8.33" fill="#edbe7a"/>
<rect x="483.20" y="298.98" width="28.80" height="8.33" fill="#f4dc7c"/>
<rect x="455.20" y="306.41" width="28.60" height="8.33" fill="#edbf7a"/>
<rect x="483.20" y="306.41" width="28.80" height="8.33" fill="#f4d87c"/>
<rect x="455.20" y="313.84" width="28.60" height="8.33" fill="#edbf7a"/>
<rect x="483.20" y="313.84" width="28.80" height="8.33" fill="#f0cc7a"/>
<rect x="455.20" y="321.27" width="28.60" height="8.33" fill="#edbf7a"/>
<rect x="483.20" y="321.27" width="28.80" height="8.33" fill="#f4e07c"/>
<rect x="455.20" y="328.70" width="28.60" height="8.33" fill="#edc07a"/>
<rect x="483.20" y="328.70" width="28.80" height="8.33" fill="#f4dc7c"/>
<rect x="455.20" y="336.13" width="28.60" height="8.33" fill="#eec07b"/>
<rect x="483.20" y="336.13" width="28.80" height="8.33" fill="#f4dc7c"/>
<rect x="455.20" y="343.56" width="28.60" height="8.33" fill="#eec07b"/>
<rect x="483.20" y="343.56" width="28.80" height="8.33" fill="#f2d47c"/>
<rect x="455.20" y="350.99" width="28.60" height="8.33" fill="#eec17b"/>
<rect x="483.20" y="350.99" width="28.80" height="8.33" fill="#5a8cb0"/>
<rect x="455.20" y="358.42" width="28.60" height="8.33" fill="#eec17b"/>
<rect x="483.20" y="358.42" width="28.80" height="8.33" fill="#eec07a"/>
<rect x="455.20" y="365.85" width="28.60" height="8.33" fill="#eec17b"/>
<rect x="483.20" y="365.85" width="28.80" height="8.33" fill="#f2d67c"/>
<rect x="455.20" y="373.28" width="28.60" height="8.33" fill="#eec27b"/>
<rect x="483.20" y="373.28" width="28.80" height="8.33" fill="#ecb876"/>
<rect x="455.20" y="380.71" width="28.60" height="8.33" fill="#eec27b"/>
<rect x="483.20" y="380.71" width="28.80" height="8.33" fill="#f2d27c"/>
<rect x="455.20" y="388.14" width="28.60" height="8.33" fill="#eec27b"/>
<rect x="483.20" y="388.14" width="28.80" height="8.33" fill="#e8dc88"/>
<rect x="455.20" y="395.57" width="28.60" height="8.33" fill="#eec37b"/>
<rect x="483.20" y="395.57" width="28.80" height="8.33" fill="#f2d47c"/>
<rect x="455.20" y="403.00" width="28.60" height="8.33" fill="#eec37b"/>
<rect x="483.20" y="403.00" width="28.80" height="8.33" fill="#f2d27c"/>
<rect x="455.20" y="410.43" width="28.60" height="8.33" fill="#efc37c"/>
<rect x="483.20" y="410.43" width="28.80" height="8.33" fill="#f4e07c"/>
<rect x="455.20" y="417.86" width="28.60" height="8.33" fill="#efc47c"/>
<rect x="483.20" y="417.86" width="28.80" height="8.33" fill="#f0c87a"/>
<rect x="455.20" y="425.29" width="28.60" height="8.33" fill="#efc47c"/>
<rect x="483.20" y="425.29" width="28.80" height="8.33" fill="#f0c87a"/>
<rect x="455.20" y="432.72" width="28.60" height="8.33" fill="#efc47c"/>
<rect x="483.20" y="432.72" width="28.80" height="8.33" fill="#ecb476"/>
<rect x="455.20" y="440.15" width="28.60" height="8.33" fill="#efc57c"/>
<rect x="483.20" y="440.15" width="28.80" height="8.33" fill="#f4e07c"/>
<rect x="455.20" y="447.58" width="28.60" height="8.33" fill="#efc57c"/>
<rect x="483.20" y="447.58" width="28.80" height="8.33" fill="#f0c47a"/>
<rect x="455.20" y="455.01" width="28.60" height="8.33" fill="#6e9ca4"/>
<rect x="483.20" y="455.01" width="28.80" height="8.33" fill="#a2b698"/>
<rect x="455.20" y="462.44" width="28.60" height="8.33" fill="#6e9ca4"/>
<rect x="483.20" y="462.44" width="28.80" height="8.33" fill="#f4e07c"/>
<rect x="455.20" y="469.87" width="28.60" height="8.33" fill="#6e9ca4"/>
<rect x="483.20" y="469.87" width="28.80" height="8.33" fill="#e6dc88"/>
<rect x="455.20" y="477.30" width="28.60" height="8.33" fill="#6e9ca4"/>
<rect x="483.20" y="477.30" width="28.80" height="8.33" fill="#a2b698"/>
<rect x="455.20" y="484.73" width="28.60" height="8.33" fill="#6596a8"/>
<rect x="483.20" y="484.73" width="28.80" height="8.33" fill="#f4e07c"/>
<rect x="455.20" y="492.16" width="28.60" height="8.33" fill="#5a8cb0"/>
<rect x="483.20" y="492.16" width="28.80" height="8.33" fill="#d4d48c"/>
<rect x="455.20" y="499.59" width="28.60" height="8.33" fill="#4a7cbc"/>
<rect x="483.20" y="499.59" width="28.80" height="8.33" fill="#4c7cb8"/>
<rect x="455.20" y="507.02" width="28.60" height="7.43" fill="#3f6cc4"/>
<rect x="483.20" y="507.02" width="28.80" height="7.43" fill="#6a98a8"/>
<line x1="426.80" y1="31.50" x2="455.20" y2="31.50" stroke="#dedede" stroke-width="0.6"/>
<line x1="426.80" y1="38.93" x2="455.20" y2="38.93" stroke="#dedede" stroke-width="0.6"/>
<line x1="426.80" y1="46.36" x2="455.20" y2="46.36" stroke="#dedede" stroke-width="0.6"/>
<line x1="426.80" y1="53.79" x2="455.20" y2="53.79" stroke="#dedede" stroke-width="0.6"/>
<line x1="426.80" y1="61.22" x2="455.20" y2="61.22" stroke="#dedede" stroke-width="0.6"/>
<line x1="426.80" y1="68.65" x2="455.20" y2="68.65" stroke="#dedede" stroke-width="0.6"/>
<line x1="426.80" y1="76.08" x2="455.20" y2="76.08" stroke="#dedede" stroke-width="0.6"/>
<line x1="426.80" y1="83.51" x2="455.20" y2="83.51" stroke="#dedede" stroke-width="0.6"/>
<line x1="426.80" y1="90.94" x2="455.20" y2="90.94" stroke="#dedede" stroke-width="0.6"/>
<line x1="426.80" y1="98.37" x2="455.20" y2="98.37" stroke="#dedede" stroke-width="0.6"/>
<line x1="426.80" y1="105.80" x2="455.20" y2="105.80" stroke="#dedede" stroke-width="0.6"/>
<line x1="426.80" y1="113.23" x2="455.20" y2="113.23" stroke="#dedede" stroke-width="0.6"/>
<line x1="426.80" y1="120.66" x2="455.20" y2="120.66" stroke="#dedede" stroke-width="0.6"/>
<line x1="426.80" y1="128.09" x2="455.20" y2="128.09" stroke="#dedede" stroke-width="0.6"/>
<line x1="426.80" y1="135.52" x2="455.20" y2="135.52" stroke="#dedede" stroke-width="0.6"/>
<line x1="426.80" y1="142.95" x2="455.20" y2="142.95" stroke="#dedede" stroke-width="0.6"/>
<line x1="426.80" y1="150.38" x2="455.20" y2="150.38" stroke="#dedede" stroke-width="0.6"/>
<line x1="426.80" y1="157.81" x2="455.20" y2="157.81" stroke="#dedede" stroke-width="0.6"/>
<line x1="426.80" y1="165.24" x2="455.20" y2="165.24" stroke="#dedede" stroke-width="0.6"/>
<line x1="426.80" y1="172.67" x2="455.20" y2="172.67" stroke="#dedede" stroke-width="0.6"/>
<line x1="426.80" y1="180.10" x2="455.20" y2="180.10" stroke="#dedede" stroke-width="0.6"/>
<line x1="426.80" y1="187.53" x2="455.20" y2="187.53" stroke="#dedede" stroke-width="0.6"/>
<line x1="426.80" y1="194.96" x2="455.20" y2="194.96" stroke="#dedede" stroke-width="0.6"/>
<line x1="426.80" y1="202.39" x2="455.20" y2="202.39" stroke="#dedede" stroke-width="0.6"/>
<line x1="426.80" y1="209.82" x2="455.20" y2="209.82" stroke="#dedede" stroke-width="0.6"/>
<line x1="426.80" y1="217.25" x2="455.20" y2="217.25" stroke="#dedede" stroke-width="0.6"/>
<line x1="426.80" y1="224.68" x2="455.20" y2="224.68" stroke="#dedede" stroke-width="0.6"/>
<line x1="426.80" y1="232.11" x2="455.20" y2="232.11" stroke="#dedede" stroke-width="0.6"/>
<line x1="426.80" y1="239.54" x2="455.20" y2="239.54" stroke="#dedede" stroke-width="0.6"/>
<line x1="426.80" y1="246.97" x2="455.20" y2="246.97" stroke="#dedede" stroke-width="0.6"/>
<line x1="426.80" y1="254.40" x2="455.20" y2="254.40" stroke="#dedede" stroke-width="0.6"/>
<line x1="426.80" y1="261.83" x2="455.20" y2="261.83" stroke="#dedede" stroke-width="0.6"/>
<line x1="426.80" y1="269.26" x2="455.20" y2="269.26" stroke="#dedede" stroke-width="0.6"/>
<line x1="426.80" y1="276.69" x2="455.20" y2="276.69" stroke="#dedede" stroke-width="0.6"/>
<line x1="426.80" y1="284.12" x2="455.20" y2="284.12" stroke="#dedede" stroke-width="0.6"/>
<line x1="426.80" y1="291.55" x2="455.20" y2="291.55" stroke="#dedede" stroke-width="0.6"/>
<line x1="426.80" y1="298.98" x2="455.20" y2="298.98" stroke="#dedede" stroke-width="0.6"/>
<line x1="426.80" y1="306.41" x2="455.20" y2="306.41" stroke="#dedede" stroke-width="0.6"/>
<line x1="426.80" y1="313.84" x2="455.20" y2="313.84" stroke="#dedede" stroke-width="0.6"/>
<line x1="426.80" y1="321.27" x2="455.20" y2="321.27" stroke="#dedede" stroke-width="0.6"/>
<line x1="426.80" y1="328.70" x2="455.20" y2="328.70" stroke="#dedede" stroke-width="0.6"/>
<line x1="426.80" y1="336.13" x2="455.20" y2="336.13" stroke="#dedede" stroke-width="0.6"/>
<line x1="426.80" y1="343.56" x2="455.20" y2="343.56" stroke="#dedede" stroke-width="0.6"/>
<line x1="426.80" y1="350.99" x2="455.20" y2="350.99" stroke="#dedede" stroke-width="0.6"/>
<line x1="426.80" y1="358.42" x2="455.20" y2="358.42" stroke="#dedede" stroke-width="0.6"/>
<line x1="426.80" y1="365.85" x2="455.20" y2="365.85" stroke="#dedede" stroke-width="0.6"/>
<line x1="426.80" y1="373.28" x2="455.20" y2="373.28" stroke="#dedede" stroke-width="0.6"/>
<line x1="426.80" y1="380.71" x2="455.20" y2="380.71" stroke="#dedede" stroke-width="0.6"/>
<line x1="426.80" y1="388.14" x2="455.20" y2="388.14" stroke="#dedede" stroke-width="0.6"/>
<line x1="426.80" y1="395.57" x2="455.20" y2="395.57" stroke="#dedede" stroke-width="0.6"/>
<line x1="426.80" y1="403.00" x2="455.20" y2="403.00" stroke="#dedede" stroke-width="0.6"/>
<line x1="426.80" y1="410.43" x2="455.20" y2="410.43" stroke="#dedede" stroke-width="0.6"/>
<line x1="426.80" y1="417.86" x2="455.20" y2="417.86" stroke="#dedede" stroke-width="0.6"/>
<line x1="426.80" y1="425.29" x2="455.20" y2="425.29" stroke="#dedede" stroke-width="0.6"/>
<line x1="426.80" y1="432.72" x2="455.20" y2="432.72" stroke="#dedede" stroke-width="0.6"/>
<line x1="426.80" y1="440.15" x2="455.20" y2="440.15" stroke="#dedede" stroke-width="0.6"/>
<line x1="426.80" y1="447.58" x2="455.20" y2="447.58" stroke="#dedede" stroke-width="0.6"/>
<line x1="426.80" y1="455.01" x2="455.20" y2="455.01" stroke="#dedede" stroke-width="0.6"/>
<line x1="426.80" y1="462.44" x2="455.20" y2="462.44" stroke="#dedede" stroke-width="0.6"/>
<line x1="426.80" y1="469.87" x2="455.20" y2="469.87" stroke="#dedede" stroke-width="0.6"/>
<line x1="426.80" y1="477.30" x2="455.20" y2="477.30" stroke="#dedede" stroke-width="0.6"/>
<line x1="426.80" y1="484.73" x2="455.20" y2="484.73" stroke="#dedede" stroke-width="0.6"/>
<line x1="426.80" y1="492.16" x2="455.20" y2="492.16" stroke="#dedede" stroke-width="0.6"/>
<line x1="426.80" y1="499.59" x2="455.20" y2="499.59" stroke="#dedede" stroke-width="0.6"/>
<line x1="426.80" y1="507.02" x2="455.20" y2="507.02" stroke="#dedede" stroke-width="0.6"/>
<line x1="426.80" y1="514.45" x2="455.20" y2="514.45" stroke="#dedede" stroke-width="0.6"/>
<line x1="426.80" y1="24.50" x2="426.80" y2="518.60" stroke="#dedede" stroke-width="0.6"/>
<line x1="512.00" y1="24.50" x2="512.00" y2="518.60" stroke="#e4e8f0" stroke-width="0.6"/>
<line x1="426.80" y1="518.60" x2="512.00" y2="518.60" stroke="#e8e8e8" stroke-width="0.6"/>
<text x="428.00" y="37.50" font-size="6.6" stroke="#1a1a1a" stroke-width="0.1">Mecom</text>
<text x="428.00" y="44.93" font-size="6.6" stroke="#1a1a1a" stroke-width="0.1">Nkx2-3</text>
<text x="428.00" y="52.36" font-size="6.6" stroke="#1a1a1a" stroke-width="0.1">Cdkn2c</text>
<text x="428.00" y="59.79" font-size="6.6" stroke="#1a1a1a" stroke-width="0.1">Dennd5b</text>
<text x="428.00" y="67.22" font-size="6.6" stroke="#1a1a1a" stroke-width="0.1">Hoxa10</text>
<text x="428.00" y="74.65" font-size="6.6" stroke="#1a1a1a" stroke-width="0.1">Hoxa7</text>
<text x="428.00" y="82.08" font-size="6.6" stroke="#1a1a1a" stroke-width="0.1">Cenpv</text>
<text x="428.00" y="89.51" font-size="6.6" stroke="#1a1a1a" stroke-width="0.1">Mef2c</text>
<text x="428.00" y="96.94" font-size="6.6" stroke="#1a1a1a" stroke-width="0.1">Sox4</text>
<text x="428.00" y="104.37" font-size="6.6" stroke="#1a1a1a" stroke-width="0.1">Lmo2</text>
<text x="428.00" y="111.80" font-size="6.6" stroke="#1a1a1a" stroke-width="0.1">Hoxb5</text>
<text x="428.00" y="119.23" font-size="6.6" stroke="#1a1a1a" stroke-width="0.1">Bahcc1</text>
<text x="428.00" y="126.66" font-size="6.6" stroke="#1a1a1a" stroke-width="0.1">Gas5</text>
<text x="428.00" y="134.09" font-size="6.6" stroke="#1a1a1a" stroke-width="0.1">Hoxa3</text>
<text x="428.00" y="141.52" font-size="6.6" stroke="#1a1a1a" stroke-width="0.1">Hoxa4</text>
<text x="428.00" y="148.95" font-size="6.6" stroke="#1a1a1a" stroke-width="0.1">Meis1</text>
<text x="428.00" y="156.38" font-size="6.6" stroke="#1a1a1a" stroke-width="0.1" textLength="43.80" lengthAdjust="spacingAndGlyphs">1500012F01Rik</text>
<text x="428.00" y="163.81" font-size="6.6" stroke="#1a1a1a" stroke-width="0.1">Hspa8</text>
<text x="428.00" y="171.24" font-size="6.6" stroke="#1a1a1a" stroke-width="0.1">Npm1</text>
<text x="428.00" y="178.67" font-size="6.6" stroke="#1a1a1a" stroke-width="0.1">Eya1</text>
<text x="428.00" y="186.10" font-size="6.6" stroke="#1a1a1a" stroke-width="0.1">Snhg5</text>
<text x="428.00" y="193.53" font-size="6.6" stroke="#1a1a1a" stroke-width="0.1">Foxp1</text>
<text x="428.00" y="200.96" font-size="6.6" stroke="#1a1a1a" stroke-width="0.1">Rnf220</text>
<text x="428.00" y="208.39" font-size="6.6" stroke="#1a1a1a" stroke-width="0.1">Fut8</text>
<text x="428.00" y="215.82" font-size="6.6" stroke="#1a1a1a" stroke-width="0.1">Ncl</text>
<text x="428.00" y="223.25" font-size="6.6" stroke="#1a1a1a" stroke-width="0.1">Hspd1</text>
<text x="428.00" y="230.68" font-size="6.6" stroke="#1a1a1a" stroke-width="0.1">Sgk3</text>
<text x="428.00" y="238.11" font-size="6.6" stroke="#1a1a1a" stroke-width="0.1">Zbtb25</text>
<text x="428.00" y="245.54" font-size="6.6" stroke="#1a1a1a" stroke-width="0.1">Taf1d</text>
<text x="428.00" y="252.97" font-size="6.6" stroke="#1a1a1a" stroke-width="0.1">Chd9</text>
<text x="428.00" y="260.40" font-size="6.6" stroke="#1a1a1a" stroke-width="0.1">Set</text>
<text x="428.00" y="267.83" font-size="6.6" stroke="#1a1a1a" stroke-width="0.1">Cdk6</text>
<text x="428.00" y="275.26" font-size="6.6" stroke="#1a1a1a" stroke-width="0.1">Rps9</text>
<text x="428.00" y="282.69" font-size="6.6" stroke="#1a1a1a" stroke-width="0.1">Pigl</text>
<text x="428.00" y="290.12" font-size="6.6" stroke="#1a1a1a" stroke-width="0.1">Pbx3</text>
<text x="428.00" y="297.55" font-size="6.6" stroke="#1a1a1a" stroke-width="0.1">Runx2</text>
<text x="428.00" y="304.98" font-size="6.6" stroke="#1a1a1a" stroke-width="0.1">Etv6</text>
<text x="428.00" y="312.41" font-size="6.6" stroke="#1a1a1a" stroke-width="0.1">Bora</text>
<text x="428.00" y="319.84" font-size="6.6" stroke="#1a1a1a" stroke-width="0.1">Dcun1d1</text>
<text x="428.00" y="327.27" font-size="6.6" stroke="#1a1a1a" stroke-width="0.1">St8sia4</text>
<text x="428.00" y="334.70" font-size="6.6" stroke="#1a1a1a" stroke-width="0.1">Fmr1</text>
<text x="428.00" y="342.13" font-size="6.6" stroke="#1a1a1a" stroke-width="0.1">Slc16a1</text>
<text x="428.00" y="349.56" font-size="6.6" stroke="#1a1a1a" stroke-width="0.1">Mbnl1</text>
<text x="428.00" y="356.99" font-size="6.6" stroke="#1a1a1a" stroke-width="0.1">Msh4</text>
<text x="428.00" y="364.42" font-size="6.6" stroke="#1a1a1a" stroke-width="0.1">Myc</text>
<text x="428.00" y="371.85" font-size="6.6" stroke="#1a1a1a" stroke-width="0.1">Dars2</text>
<text x="428.00" y="379.28" font-size="6.6" stroke="#1a1a1a" stroke-width="0.1">Rpl3</text>
<text x="428.00" y="386.71" font-size="6.6" stroke="#1a1a1a" stroke-width="0.1">Tnpo1</text>
<text x="428.00" y="394.14" font-size="6.6" stroke="#1a1a1a" stroke-width="0.1">Csgalnact2</text>
<text x="428.00" y="401.57" font-size="6.6" stroke="#1a1a1a" stroke-width="0.1">Dis3</text>
<text x="428.00" y="409.00" font-size="6.6" stroke="#1a1a1a" stroke-width="0.1">Eef1a1</text>
<text x="428.00" y="416.43" font-size="6.6" stroke="#1a1a1a" stroke-width="0.1">Tmem107</text>
<text x="428.00" y="423.86" font-size="6.6" stroke="#1a1a1a" stroke-width="0.1">Zfp36l2</text>
<text x="428.00" y="431.29" font-size="6.6" stroke="#1a1a1a" stroke-width="0.1">Rps12</text>
<text x="428.00" y="438.72" font-size="6.6" stroke="#1a1a1a" stroke-width="0.1">Myb</text>
<text x="428.00" y="446.15" font-size="6.6" stroke="#1a1a1a" stroke-width="0.1">Lpo</text>
<text x="428.00" y="453.58" font-size="6.6" stroke="#1a1a1a" stroke-width="0.1">Elf1</text>
<text x="428.00" y="461.01" font-size="6.6" stroke="#1a1a1a" stroke-width="0.1">Pim1</text>
<text x="428.00" y="468.44" font-size="6.6" stroke="#1a1a1a" stroke-width="0.1">Malat1</text>
<text x="428.00" y="475.87" font-size="6.6" stroke="#1a1a1a" stroke-width="0.1">Chd2</text>
<text x="428.00" y="483.30" font-size="6.6" stroke="#1a1a1a" stroke-width="0.1">Mtmr3</text>
<text x="428.00" y="490.73" font-size="6.6" stroke="#1a1a1a" stroke-width="0.1">Nfe2</text>
<text x="428.00" y="498.16" font-size="6.6" stroke="#1a1a1a" stroke-width="0.1">Bzrap1</text>
<text x="428.00" y="505.59" font-size="6.6" stroke="#1a1a1a" stroke-width="0.1">Cd53</text>
<text x="428.00" y="513.02" font-size="6.6" stroke="#1a1a1a" stroke-width="0.1">Cast</text>
<rect x="426.70" y="520.00" width="10.18" height="7.00" fill="#e00a0a"/>
<rect x="436.18" y="520.00" width="10.18" height="7.00" fill="#e02c20"/>
<rect x="445.66" y="520.00" width="10.18" height="7.00" fill="#e25a3a"/>
<rect x="455.13" y="520.00" width="10.18" height="7.00" fill="#e88a52"/>
<rect x="464.61" y="520.00" width="10.18" height="7.00" fill="#f0b870"/>
<rect x="474.09" y="520.00" width="10.18" height="7.00" fill="#f6e482"/>
<rect x="483.57" y="520.00" width="10.18" height="7.00" fill="#a6b994"/>
<rect x="493.04" y="520.00" width="10.18" height="7.00" fill="#6a9aa8"/>
<rect x="502.52" y="520.00" width="9.48" height="7.00" fill="#3c6cc4"/>
<text x="427.60" y="536.40" font-size="6.2" stroke="#1a1a1a" stroke-width="0.1" textLength="4.60" lengthAdjust="spacingAndGlyphs">-5</text>
<text x="477.00" y="536.40" font-size="6.2" stroke="#1a1a1a" stroke-width="0.1" textLength="3.20" lengthAdjust="spacingAndGlyphs">0</text>
<text x="507.20" y="536.40" font-size="6.2" stroke="#1a1a1a" stroke-width="0.1" textLength="3.20" lengthAdjust="spacingAndGlyphs">3</text>
<text x="452.30" y="546.50" font-size="8.2" stroke="#1a1a1a" stroke-width="0.2" textLength="52.30" lengthAdjust="spacingAndGlyphs">log-fold change</text>
<rect x="0.75" y="0.9" width="518.4" height="554.2" fill="none" stroke="#1e1e1e" stroke-width="1.8"/>
</svg>
</body></html>
